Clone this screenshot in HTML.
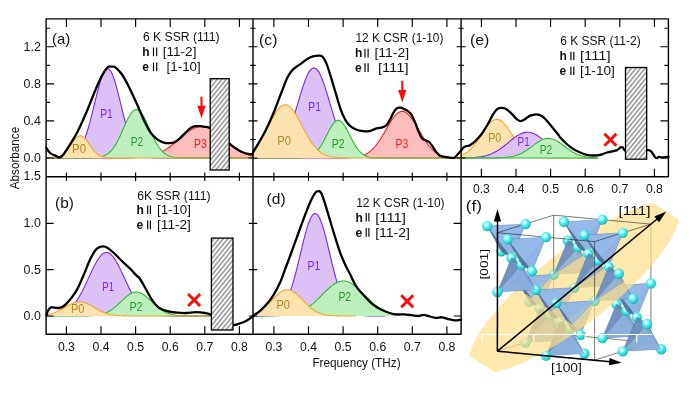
<!DOCTYPE html>
<html><head><meta charset="utf-8"><title>figure</title>
<style>html,body{margin:0;padding:0;background:#fff}svg{display:block}</style></head>
<body>
<svg width="696" height="417" viewBox="0 0 696 417" font-family="'Liberation Sans', sans-serif">
<defs>
<filter id="nf" x="0" y="0" width="696" height="417" filterUnits="userSpaceOnUse" color-interpolation-filters="sRGB"><feOffset dx="0" dy="0"/></filter>
<pattern id="hatch" width="3.5" height="3.5" patternUnits="userSpaceOnUse" patternTransform="rotate(-51)">
<rect width="3.5" height="3.5" fill="#fbfbfb"/><line x1="0" y1="1.75" x2="3.5" y2="1.75" stroke="#808080" stroke-width="1.25"/></pattern>
<radialGradient id="atom" cx="0.40" cy="0.36" r="0.70"><stop offset="0" stop-color="#FFFFFF"/><stop offset="0.22" stop-color="#B4FCFC"/><stop offset="0.5" stop-color="#44E8E8"/><stop offset="0.8" stop-color="#24CACA"/><stop offset="1" stop-color="#139090"/></radialGradient>
<radialGradient id="atomf" cx="0.36" cy="0.32" r="0.75"><stop offset="0" stop-color="#F2F6D8"/><stop offset="0.3" stop-color="#CFE3A8"/><stop offset="0.8" stop-color="#B9D596"/><stop offset="1" stop-color="#A4C088"/></radialGradient>
<clipPath id="cpa"><rect x="46.10" y="18.90" width="206.90" height="157.90"/></clipPath>
<clipPath id="cpb"><rect x="46.10" y="176.80" width="206.90" height="157.50"/></clipPath>
<clipPath id="cpc"><rect x="253.00" y="18.90" width="208.10" height="157.90"/></clipPath>
<clipPath id="cpd"><rect x="253.00" y="176.80" width="208.10" height="157.50"/></clipPath>
<clipPath id="cpe"><rect x="461.10" y="18.90" width="207.30" height="157.90"/></clipPath>
</defs>
<rect width="696" height="417" fill="#fff"/>
<g filter="url(#nf)">
<g id="crystal">
<polygon points="553.70,274.45 524.71,293.43 529.40,301.85" fill="#88ABDB" fill-opacity="0.82" stroke="#2B4E86" stroke-opacity="0.30" stroke-width="0.5" stroke-linejoin="round"/>
<polygon points="553.70,274.45 592.07,272.30 575.88,251.07" fill="#94BAEA" fill-opacity="0.82" stroke="#2B4E86" stroke-opacity="0.30" stroke-width="0.5" stroke-linejoin="round"/>
<polygon points="592.07,272.30 582.69,255.47 575.88,251.07" fill="#4F6A98" fill-opacity="0.82" stroke="#2B4E86" stroke-opacity="0.30" stroke-width="0.5" stroke-linejoin="round"/>
<circle cx="529.40" cy="301.85" r="5.2" fill="url(#atom)"/>
<line x1="553.70" y1="333.70" x2="553.70" y2="321.85" stroke="#222" stroke-width="0.6"/>
<polygon points="553.70,274.45 529.40,301.85 539.62,308.45" fill="#6987B6" fill-opacity="0.82" stroke="#2B4E86" stroke-opacity="0.30" stroke-width="0.5" stroke-linejoin="round"/>
<line x1="553.70" y1="321.85" x2="553.70" y2="310.00" stroke="#222" stroke-width="0.6"/>
<line x1="553.70" y1="333.70" x2="563.42" y2="334.59" stroke="#222" stroke-width="0.6"/>
<polygon points="553.70,274.45 592.07,272.30 582.69,255.47" fill="#88ABDB" fill-opacity="0.82" stroke="#2B4E86" stroke-opacity="0.30" stroke-width="0.5" stroke-linejoin="round"/>
<line x1="553.70" y1="310.00" x2="553.70" y2="298.15" stroke="#222" stroke-width="0.6"/>
<circle cx="592.07" cy="272.30" r="5.2" fill="url(#atom)"/>
<line x1="548.07" y1="335.45" x2="553.70" y2="333.70" stroke="#222" stroke-width="0.6"/>
<polygon points="524.71,293.43 529.40,301.85 539.62,308.45 531.52,297.83" fill="#4F6A98" fill-opacity="0.82" stroke="#2B4E86" stroke-opacity="0.30" stroke-width="0.5" stroke-linejoin="round"/>
<line x1="553.70" y1="298.15" x2="553.70" y2="286.30" stroke="#222" stroke-width="0.6"/>
<line x1="553.70" y1="286.30" x2="553.70" y2="274.45" stroke="#222" stroke-width="0.6"/>
<line x1="563.42" y1="334.59" x2="573.14" y2="335.48" stroke="#222" stroke-width="0.6"/>
<polygon points="602.30,338.15 640.67,336.00 616.38,304.15" fill="#94BAEA" fill-opacity="0.82" stroke="#2B4E86" stroke-opacity="0.30" stroke-width="0.5" stroke-linejoin="round"/>
<line x1="573.14" y1="335.48" x2="582.86" y2="336.37" stroke="#222" stroke-width="0.6"/>
<circle cx="616.38" cy="304.15" r="5.2" fill="url(#atom)"/>
<line x1="542.44" y1="337.20" x2="548.07" y2="335.45" stroke="#222" stroke-width="0.6"/>
<circle cx="553.70" cy="274.45" r="5.2" fill="url(#atom)"/>
<polygon points="553.70,274.45 531.52,297.83 539.62,308.45" fill="#94BAEA" fill-opacity="0.82" stroke="#2B4E86" stroke-opacity="0.30" stroke-width="0.5" stroke-linejoin="round"/>
<polygon points="640.67,336.00 626.60,310.75 616.38,304.15" fill="#4F6A98" fill-opacity="0.82" stroke="#2B4E86" stroke-opacity="0.30" stroke-width="0.5" stroke-linejoin="round"/>
<line x1="582.86" y1="336.37" x2="592.58" y2="337.26" stroke="#222" stroke-width="0.6"/>
<polygon points="602.30,338.15 626.60,310.75 616.38,304.15" fill="#6987B6" fill-opacity="0.82" stroke="#2B4E86" stroke-opacity="0.30" stroke-width="0.5" stroke-linejoin="round"/>
<circle cx="640.67" cy="336.00" r="5.2" fill="url(#atom)"/>
<line x1="536.81" y1="338.95" x2="542.44" y2="337.20" stroke="#222" stroke-width="0.6"/>
<polygon points="602.30,338.15 640.67,336.00 626.60,310.75" fill="#88ABDB" fill-opacity="0.82" stroke="#2B4E86" stroke-opacity="0.30" stroke-width="0.5" stroke-linejoin="round"/>
<line x1="592.58" y1="337.26" x2="602.30" y2="338.15" stroke="#222" stroke-width="0.6"/>
<polygon points="525.55,342.45 563.92,340.30 539.62,308.45" fill="#94BAEA" fill-opacity="0.82" stroke="#2B4E86" stroke-opacity="0.30" stroke-width="0.5" stroke-linejoin="round"/>
<line x1="602.30" y1="338.15" x2="612.02" y2="339.04" stroke="#222" stroke-width="0.6"/>
<circle cx="602.30" cy="338.15" r="5.2" fill="url(#atom)"/>
<line x1="531.18" y1="340.70" x2="536.81" y2="338.95" stroke="#222" stroke-width="0.6"/>
<circle cx="539.62" cy="308.45" r="5.2" fill="url(#atom)"/>
<line x1="612.02" y1="339.04" x2="621.74" y2="339.93" stroke="#222" stroke-width="0.6"/>
<polygon points="563.92,340.30 549.85,315.05 539.62,308.45" fill="#4F6A98" fill-opacity="0.82" stroke="#2B4E86" stroke-opacity="0.30" stroke-width="0.5" stroke-linejoin="round"/>
<line x1="621.74" y1="339.93" x2="631.46" y2="340.82" stroke="#222" stroke-width="0.6"/>
<polygon points="525.55,342.45 549.85,315.05 539.62,308.45" fill="#6987B6" fill-opacity="0.82" stroke="#2B4E86" stroke-opacity="0.30" stroke-width="0.5" stroke-linejoin="round"/>
<line x1="525.55" y1="342.45" x2="531.18" y2="340.70" stroke="#222" stroke-width="0.6"/>
<circle cx="563.92" cy="340.30" r="5.2" fill="url(#atom)"/>
<polygon points="525.55,342.45 563.92,340.30 549.85,315.05" fill="#88ABDB" fill-opacity="0.82" stroke="#2B4E86" stroke-opacity="0.30" stroke-width="0.5" stroke-linejoin="round"/>
<line x1="631.46" y1="340.82" x2="641.18" y2="341.71" stroke="#222" stroke-width="0.6"/>
<circle cx="626.60" cy="310.75" r="5.2" fill="url(#atom)"/>
<line x1="519.92" y1="344.20" x2="525.55" y2="342.45" stroke="#222" stroke-width="0.6"/>
<line x1="641.18" y1="341.71" x2="650.90" y2="342.60" stroke="#222" stroke-width="0.6"/>
<circle cx="525.55" cy="342.45" r="5.2" fill="url(#atom)"/>
<polygon points="650.90,283.35 612.52,285.50 626.60,310.75" fill="#88ABDB" fill-opacity="0.82" stroke="#2B4E86" stroke-opacity="0.30" stroke-width="0.5" stroke-linejoin="round"/>
<line x1="650.90" y1="342.60" x2="650.90" y2="330.75" stroke="#222" stroke-width="0.6"/>
<polygon points="650.90,283.35 626.60,310.75 636.83,317.35" fill="#6987B6" fill-opacity="0.82" stroke="#2B4E86" stroke-opacity="0.30" stroke-width="0.5" stroke-linejoin="round"/>
<line x1="650.90" y1="330.75" x2="650.90" y2="318.90" stroke="#222" stroke-width="0.6"/>
<line x1="650.90" y1="318.90" x2="650.90" y2="307.05" stroke="#222" stroke-width="0.6"/>
<line x1="645.27" y1="344.35" x2="650.90" y2="342.60" stroke="#222" stroke-width="0.6"/>
<line x1="650.90" y1="307.05" x2="650.90" y2="295.20" stroke="#222" stroke-width="0.6"/>
<line x1="514.29" y1="345.95" x2="519.92" y2="344.20" stroke="#222" stroke-width="0.6"/>
<polygon points="612.52,285.50 626.60,310.75 636.83,317.35" fill="#4F6A98" fill-opacity="0.82" stroke="#2B4E86" stroke-opacity="0.30" stroke-width="0.5" stroke-linejoin="round"/>
<line x1="650.90" y1="295.20" x2="650.90" y2="283.35" stroke="#222" stroke-width="0.6"/>
<line x1="650.90" y1="283.35" x2="650.90" y2="271.50" stroke="#222" stroke-width="0.6"/>
<line x1="650.90" y1="271.50" x2="650.90" y2="259.65" stroke="#222" stroke-width="0.6"/>
<polygon points="574.15,287.65 545.16,306.63 549.85,315.05" fill="#88ABDB" fill-opacity="0.82" stroke="#2B4E86" stroke-opacity="0.30" stroke-width="0.5" stroke-linejoin="round"/>
<polygon points="574.15,287.65 612.52,285.50 596.33,264.27" fill="#94BAEA" fill-opacity="0.82" stroke="#2B4E86" stroke-opacity="0.30" stroke-width="0.5" stroke-linejoin="round"/>
<polygon points="650.90,283.35 612.52,285.50 636.83,317.35" fill="#94BAEA" fill-opacity="0.82" stroke="#2B4E86" stroke-opacity="0.30" stroke-width="0.5" stroke-linejoin="round"/>
<line x1="650.90" y1="259.65" x2="650.90" y2="247.80" stroke="#222" stroke-width="0.6"/>
<line x1="639.64" y1="346.10" x2="645.27" y2="344.35" stroke="#222" stroke-width="0.6"/>
<circle cx="650.90" cy="283.35" r="5.2" fill="url(#atom)"/>
<line x1="650.90" y1="247.80" x2="650.90" y2="235.95" stroke="#222" stroke-width="0.6"/>
<polygon points="612.52,285.50 603.14,268.67 596.33,264.27" fill="#4F6A98" fill-opacity="0.82" stroke="#2B4E86" stroke-opacity="0.30" stroke-width="0.5" stroke-linejoin="round"/>
<line x1="508.66" y1="347.70" x2="514.29" y2="345.95" stroke="#222" stroke-width="0.6"/>
<circle cx="549.85" cy="315.05" r="5.2" fill="url(#atom)"/>
<line x1="650.90" y1="235.95" x2="650.90" y2="224.10" stroke="#222" stroke-width="0.6"/>
<polygon points="574.15,287.65 549.85,315.05 560.08,321.65" fill="#6987B6" fill-opacity="0.82" stroke="#2B4E86" stroke-opacity="0.30" stroke-width="0.5" stroke-linejoin="round"/>
<polygon points="574.15,287.65 612.52,285.50 603.14,268.67" fill="#88ABDB" fill-opacity="0.82" stroke="#2B4E86" stroke-opacity="0.30" stroke-width="0.5" stroke-linejoin="round"/>
<line x1="634.01" y1="347.85" x2="639.64" y2="346.10" stroke="#222" stroke-width="0.6"/>
<circle cx="612.52" cy="285.50" r="5.2" fill="url(#atom)"/>
<polygon points="545.16,306.63 549.85,315.05 560.08,321.65 551.98,311.03" fill="#4F6A98" fill-opacity="0.82" stroke="#2B4E86" stroke-opacity="0.30" stroke-width="0.5" stroke-linejoin="round"/>
<line x1="503.03" y1="349.45" x2="508.66" y2="347.70" stroke="#222" stroke-width="0.6"/>
<polygon points="622.75,351.35 661.12,349.20 636.83,317.35" fill="#94BAEA" fill-opacity="0.82" stroke="#2B4E86" stroke-opacity="0.30" stroke-width="0.5" stroke-linejoin="round"/>
<line x1="628.38" y1="349.60" x2="634.01" y2="347.85" stroke="#222" stroke-width="0.6"/>
<circle cx="636.83" cy="317.35" r="5.2" fill="url(#atom)"/>
<circle cx="574.15" cy="287.65" r="5.2" fill="url(#atom)"/>
<line x1="497.40" y1="351.20" x2="503.03" y2="349.45" stroke="#222" stroke-width="0.6"/>
<polygon points="574.15,287.65 551.98,311.03 560.08,321.65" fill="#94BAEA" fill-opacity="0.82" stroke="#2B4E86" stroke-opacity="0.30" stroke-width="0.5" stroke-linejoin="round"/>
<polygon points="661.12,349.20 647.05,323.95 636.83,317.35" fill="#4F6A98" fill-opacity="0.82" stroke="#2B4E86" stroke-opacity="0.30" stroke-width="0.5" stroke-linejoin="round"/>
<polygon points="622.75,351.35 647.05,323.95 636.83,317.35" fill="#6987B6" fill-opacity="0.82" stroke="#2B4E86" stroke-opacity="0.30" stroke-width="0.5" stroke-linejoin="round"/>
<line x1="497.40" y1="351.20" x2="507.12" y2="352.09" stroke="#222" stroke-width="0.6"/>
<line x1="622.75" y1="351.35" x2="628.38" y2="349.60" stroke="#222" stroke-width="0.6"/>
<circle cx="661.12" cy="349.20" r="5.2" fill="url(#atom)"/>
<polygon points="622.75,351.35 661.12,349.20 647.05,323.95" fill="#88ABDB" fill-opacity="0.82" stroke="#2B4E86" stroke-opacity="0.30" stroke-width="0.5" stroke-linejoin="round"/>
<line x1="507.12" y1="352.09" x2="516.84" y2="352.98" stroke="#222" stroke-width="0.6"/>
<polygon points="546.00,355.65 584.38,353.50 560.08,321.65" fill="#94BAEA" fill-opacity="0.82" stroke="#2B4E86" stroke-opacity="0.30" stroke-width="0.5" stroke-linejoin="round"/>
<line x1="617.12" y1="353.10" x2="622.75" y2="351.35" stroke="#222" stroke-width="0.6"/>
<circle cx="622.75" cy="351.35" r="5.2" fill="url(#atom)"/>
<line x1="516.84" y1="352.98" x2="526.56" y2="353.87" stroke="#222" stroke-width="0.6"/>
<circle cx="560.08" cy="321.65" r="5.2" fill="url(#atom)"/>
<polygon points="584.38,353.50 570.30,328.25 560.08,321.65" fill="#4F6A98" fill-opacity="0.82" stroke="#2B4E86" stroke-opacity="0.30" stroke-width="0.5" stroke-linejoin="round"/>
<line x1="526.56" y1="353.87" x2="536.28" y2="354.76" stroke="#222" stroke-width="0.6"/>
<polygon points="546.00,355.65 570.30,328.25 560.08,321.65" fill="#6987B6" fill-opacity="0.82" stroke="#2B4E86" stroke-opacity="0.30" stroke-width="0.5" stroke-linejoin="round"/>
<line x1="611.49" y1="354.85" x2="617.12" y2="353.10" stroke="#222" stroke-width="0.6"/>
<circle cx="584.38" cy="353.50" r="5.2" fill="url(#atom)"/>
<polygon points="546.00,355.65 584.38,353.50 570.30,328.25" fill="#88ABDB" fill-opacity="0.82" stroke="#2B4E86" stroke-opacity="0.30" stroke-width="0.5" stroke-linejoin="round"/>
<line x1="536.28" y1="354.76" x2="546.00" y2="355.65" stroke="#222" stroke-width="0.6"/>
<line x1="546.00" y1="355.65" x2="555.72" y2="356.54" stroke="#222" stroke-width="0.6"/>
<line x1="605.86" y1="356.60" x2="611.49" y2="354.85" stroke="#222" stroke-width="0.6"/>
<circle cx="647.05" cy="323.95" r="5.2" fill="url(#atom)"/>
<circle cx="546.00" cy="355.65" r="5.2" fill="url(#atom)"/>
<line x1="555.72" y1="356.54" x2="565.44" y2="357.43" stroke="#222" stroke-width="0.6"/>
<line x1="600.23" y1="358.35" x2="605.86" y2="356.60" stroke="#222" stroke-width="0.6"/>
<line x1="565.44" y1="357.43" x2="575.16" y2="358.32" stroke="#222" stroke-width="0.6"/>
<line x1="575.16" y1="358.32" x2="584.88" y2="359.21" stroke="#222" stroke-width="0.6"/>
<polygon points="594.60,300.85 565.61,319.83 570.30,328.25" fill="#88ABDB" fill-opacity="0.82" stroke="#2B4E86" stroke-opacity="0.30" stroke-width="0.5" stroke-linejoin="round"/>
<polygon points="594.60,300.85 632.98,298.70 616.77,277.47" fill="#94BAEA" fill-opacity="0.82" stroke="#2B4E86" stroke-opacity="0.30" stroke-width="0.5" stroke-linejoin="round"/>
<line x1="594.60" y1="360.10" x2="600.23" y2="358.35" stroke="#222" stroke-width="0.6"/>
<polygon points="632.98,298.70 623.59,281.87 616.77,277.47" fill="#4F6A98" fill-opacity="0.82" stroke="#2B4E86" stroke-opacity="0.30" stroke-width="0.5" stroke-linejoin="round"/>
<circle cx="570.30" cy="328.25" r="5.2" fill="url(#atom)"/>
<line x1="584.88" y1="359.21" x2="594.60" y2="360.10" stroke="#222" stroke-width="0.6"/>
<line x1="594.60" y1="360.10" x2="594.60" y2="348.25" stroke="#222" stroke-width="0.6"/>
<polygon points="594.60,300.85 570.30,328.25 580.52,334.85" fill="#6987B6" fill-opacity="0.82" stroke="#2B4E86" stroke-opacity="0.30" stroke-width="0.5" stroke-linejoin="round"/>
<line x1="594.60" y1="348.25" x2="594.60" y2="336.40" stroke="#222" stroke-width="0.6"/>
<polygon points="594.60,300.85 632.98,298.70 623.59,281.87" fill="#88ABDB" fill-opacity="0.82" stroke="#2B4E86" stroke-opacity="0.30" stroke-width="0.5" stroke-linejoin="round"/>
<line x1="594.60" y1="336.40" x2="594.60" y2="324.55" stroke="#222" stroke-width="0.6"/>
<circle cx="632.98" cy="298.70" r="5.2" fill="url(#atom)"/>
<polygon points="565.61,319.83 570.30,328.25 580.52,334.85 572.42,324.23" fill="#4F6A98" fill-opacity="0.82" stroke="#2B4E86" stroke-opacity="0.30" stroke-width="0.5" stroke-linejoin="round"/>
<line x1="594.60" y1="324.55" x2="594.60" y2="312.70" stroke="#222" stroke-width="0.6"/>
<line x1="594.60" y1="312.70" x2="594.60" y2="300.85" stroke="#222" stroke-width="0.6"/>
<circle cx="594.60" cy="300.85" r="5.2" fill="url(#atom)"/>
<polygon points="594.60,300.85 572.42,324.23 580.52,334.85" fill="#94BAEA" fill-opacity="0.82" stroke="#2B4E86" stroke-opacity="0.30" stroke-width="0.5" stroke-linejoin="round"/>
<circle cx="580.52" cy="334.85" r="5.2" fill="url(#atom)"/>
<polygon points="469.37,355.70 470.93,349.75 473.15,344.23 475.80,338.97 478.74,333.91 481.91,329.00 485.27,324.22 488.79,319.53 492.45,314.94 496.24,310.42 500.13,305.98 504.13,301.60 508.23,297.28 512.41,293.03 516.67,288.82 521.02,284.67 525.45,280.57 529.95,276.52 534.52,272.51 539.17,268.56 543.90,264.65 548.69,260.78 553.56,256.97 558.50,253.20 563.52,249.48 568.62,245.81 573.79,242.20 579.06,238.64 584.41,235.13 589.85,231.69 595.40,228.31 601.06,225.01 606.84,221.78 612.77,218.65 618.85,215.62 625.12,212.71 631.62,209.95 638.42,207.38 645.65,205.08 653.53,203.21 678.93,219.61 677.37,225.56 675.14,231.08 672.50,236.33 669.56,241.39 666.39,246.30 663.02,251.09 659.50,255.77 655.84,260.37 652.06,264.88 648.16,269.33 644.16,273.70 640.07,278.02 635.89,282.28 631.62,286.48 627.27,290.63 622.85,294.73 618.35,298.79 613.77,302.79 609.12,306.75 604.40,310.66 599.61,314.52 594.74,318.34 589.79,322.10 584.78,325.82 579.68,329.49 574.50,333.11 569.24,336.67 563.89,340.17 558.44,343.61 552.89,346.99 547.23,350.30 541.45,353.52 535.53,356.66 529.45,359.69 523.18,362.60 516.67,365.36 509.87,367.93 502.65,370.22 494.77,372.09" fill="#FFDE88" fill-opacity="0.70" stroke="none"/>
<polygon points="553.70,274.45 575.88,251.07 567.77,240.45" fill="#94BAEA" fill-opacity="0.82" stroke="#2B4E86" stroke-opacity="0.30" stroke-width="0.5" stroke-linejoin="round"/>
<circle cx="567.77" cy="240.45" r="5.2" fill="url(#atom)"/>
<polygon points="582.69,255.47 578.00,247.05 567.77,240.45 575.88,251.07" fill="#4F6A98" fill-opacity="0.82" stroke="#2B4E86" stroke-opacity="0.30" stroke-width="0.5" stroke-linejoin="round"/>
<polygon points="553.70,274.45 515.32,276.60 524.71,293.43" fill="#88ABDB" fill-opacity="0.82" stroke="#2B4E86" stroke-opacity="0.30" stroke-width="0.5" stroke-linejoin="round"/>
<polygon points="553.70,274.45 578.00,247.05 567.77,240.45" fill="#6987B6" fill-opacity="0.82" stroke="#2B4E86" stroke-opacity="0.30" stroke-width="0.5" stroke-linejoin="round"/>
<polygon points="515.32,276.60 524.71,293.43 531.52,297.83" fill="#4F6A98" fill-opacity="0.82" stroke="#2B4E86" stroke-opacity="0.30" stroke-width="0.5" stroke-linejoin="round"/>
<line x1="553.70" y1="274.45" x2="553.70" y2="262.60" stroke="#222" stroke-width="0.6"/>
<line x1="553.70" y1="262.60" x2="553.70" y2="250.75" stroke="#222" stroke-width="0.6"/>
<polygon points="553.70,274.45 515.32,276.60 531.52,297.83" fill="#94BAEA" fill-opacity="0.82" stroke="#2B4E86" stroke-opacity="0.30" stroke-width="0.5" stroke-linejoin="round"/>
<polygon points="553.70,274.45 582.69,255.47 578.00,247.05" fill="#88ABDB" fill-opacity="0.82" stroke="#2B4E86" stroke-opacity="0.30" stroke-width="0.5" stroke-linejoin="round"/>
<line x1="553.70" y1="250.75" x2="553.70" y2="238.90" stroke="#222" stroke-width="0.6"/>
<circle cx="553.70" cy="274.45" r="5.2" fill="url(#atom)" opacity="0.4"/>
<line x1="553.70" y1="238.90" x2="553.70" y2="227.05" stroke="#222" stroke-width="0.6"/>
<line x1="553.70" y1="227.05" x2="553.70" y2="215.20" stroke="#222" stroke-width="0.6"/>
<line x1="553.70" y1="215.20" x2="563.42" y2="216.09" stroke="#222" stroke-width="0.6"/>
<line x1="548.07" y1="216.95" x2="553.70" y2="215.20" stroke="#222" stroke-width="0.6"/>
<circle cx="515.32" cy="276.60" r="5.2" fill="url(#atom)"/>
<line x1="563.42" y1="216.09" x2="573.14" y2="216.98" stroke="#222" stroke-width="0.6"/>
<line x1="573.14" y1="216.98" x2="582.86" y2="217.87" stroke="#222" stroke-width="0.6"/>
<line x1="542.44" y1="218.70" x2="548.07" y2="216.95" stroke="#222" stroke-width="0.6"/>
<circle cx="578.00" cy="247.05" r="5.2" fill="url(#atom)"/>
<polygon points="602.30,219.65 563.92,221.80 578.00,247.05" fill="#88ABDB" fill-opacity="0.82" stroke="#2B4E86" stroke-opacity="0.30" stroke-width="0.5" stroke-linejoin="round"/>
<line x1="582.86" y1="217.87" x2="592.58" y2="218.76" stroke="#222" stroke-width="0.6"/>
<polygon points="602.30,219.65 578.00,247.05 588.23,253.65" fill="#6987B6" fill-opacity="0.82" stroke="#2B4E86" stroke-opacity="0.30" stroke-width="0.5" stroke-linejoin="round"/>
<line x1="536.81" y1="220.45" x2="542.44" y2="218.70" stroke="#222" stroke-width="0.6"/>
<line x1="592.58" y1="218.76" x2="602.30" y2="219.65" stroke="#222" stroke-width="0.6"/>
<polygon points="563.92,221.80 578.00,247.05 588.23,253.65" fill="#4F6A98" fill-opacity="0.82" stroke="#2B4E86" stroke-opacity="0.30" stroke-width="0.5" stroke-linejoin="round"/>
<line x1="602.30" y1="219.65" x2="612.02" y2="220.54" stroke="#222" stroke-width="0.6"/>
<polygon points="602.30,219.65 563.92,221.80 588.23,253.65" fill="#94BAEA" fill-opacity="0.82" stroke="#2B4E86" stroke-opacity="0.30" stroke-width="0.5" stroke-linejoin="round"/>
<circle cx="602.30" cy="219.65" r="5.2" fill="url(#atom)"/>
<line x1="531.18" y1="222.20" x2="536.81" y2="220.45" stroke="#222" stroke-width="0.6"/>
<circle cx="501.25" cy="251.35" r="5.2" fill="url(#atom)"/>
<line x1="612.02" y1="220.54" x2="621.74" y2="221.43" stroke="#222" stroke-width="0.6"/>
<polygon points="525.55,223.95 487.17,226.10 501.25,251.35" fill="#88ABDB" fill-opacity="0.82" stroke="#2B4E86" stroke-opacity="0.30" stroke-width="0.5" stroke-linejoin="round"/>
<polygon points="525.55,223.95 501.25,251.35 511.47,257.95" fill="#6987B6" fill-opacity="0.82" stroke="#2B4E86" stroke-opacity="0.30" stroke-width="0.5" stroke-linejoin="round"/>
<line x1="621.74" y1="221.43" x2="631.46" y2="222.32" stroke="#222" stroke-width="0.6"/>
<line x1="525.55" y1="223.95" x2="531.18" y2="222.20" stroke="#222" stroke-width="0.6"/>
<circle cx="563.92" cy="221.80" r="5.2" fill="url(#atom)"/>
<polygon points="487.17,226.10 501.25,251.35 511.47,257.95" fill="#4F6A98" fill-opacity="0.82" stroke="#2B4E86" stroke-opacity="0.30" stroke-width="0.5" stroke-linejoin="round"/>
<polygon points="574.15,287.65 596.33,264.27 588.23,253.65" fill="#94BAEA" fill-opacity="0.82" stroke="#2B4E86" stroke-opacity="0.30" stroke-width="0.5" stroke-linejoin="round"/>
<line x1="631.46" y1="222.32" x2="641.18" y2="223.21" stroke="#222" stroke-width="0.6"/>
<polygon points="525.55,223.95 487.17,226.10 511.47,257.95" fill="#94BAEA" fill-opacity="0.82" stroke="#2B4E86" stroke-opacity="0.30" stroke-width="0.5" stroke-linejoin="round"/>
<line x1="519.92" y1="225.70" x2="525.55" y2="223.95" stroke="#222" stroke-width="0.6"/>
<line x1="641.18" y1="223.21" x2="650.90" y2="224.10" stroke="#222" stroke-width="0.6"/>
<circle cx="588.23" cy="253.65" r="5.2" fill="url(#atom)"/>
<circle cx="525.55" cy="223.95" r="5.2" fill="url(#atom)"/>
<polygon points="603.14,268.67 598.45,260.25 588.23,253.65 596.33,264.27" fill="#4F6A98" fill-opacity="0.82" stroke="#2B4E86" stroke-opacity="0.30" stroke-width="0.5" stroke-linejoin="round"/>
<polygon points="574.15,287.65 535.77,289.80 545.16,306.63" fill="#88ABDB" fill-opacity="0.82" stroke="#2B4E86" stroke-opacity="0.30" stroke-width="0.5" stroke-linejoin="round"/>
<line x1="645.27" y1="225.85" x2="650.90" y2="224.10" stroke="#222" stroke-width="0.6"/>
<polygon points="574.15,287.65 598.45,260.25 588.23,253.65" fill="#6987B6" fill-opacity="0.82" stroke="#2B4E86" stroke-opacity="0.30" stroke-width="0.5" stroke-linejoin="round"/>
<line x1="514.29" y1="227.45" x2="519.92" y2="225.70" stroke="#222" stroke-width="0.6"/>
<circle cx="487.17" cy="226.10" r="5.2" fill="url(#atom)"/>
<polygon points="535.77,289.80 545.16,306.63 551.98,311.03" fill="#4F6A98" fill-opacity="0.82" stroke="#2B4E86" stroke-opacity="0.30" stroke-width="0.5" stroke-linejoin="round"/>
<polygon points="497.40,291.95 535.77,289.80 511.47,257.95" fill="#94BAEA" fill-opacity="0.82" stroke="#2B4E86" stroke-opacity="0.30" stroke-width="0.5" stroke-linejoin="round"/>
<polygon points="574.15,287.65 535.77,289.80 551.98,311.03" fill="#94BAEA" fill-opacity="0.82" stroke="#2B4E86" stroke-opacity="0.30" stroke-width="0.5" stroke-linejoin="round"/>
<line x1="639.64" y1="227.60" x2="645.27" y2="225.85" stroke="#222" stroke-width="0.6"/>
<polygon points="574.15,287.65 603.14,268.67 598.45,260.25" fill="#88ABDB" fill-opacity="0.82" stroke="#2B4E86" stroke-opacity="0.30" stroke-width="0.5" stroke-linejoin="round"/>
<line x1="508.66" y1="229.20" x2="514.29" y2="227.45" stroke="#222" stroke-width="0.6"/>
<circle cx="574.15" cy="287.65" r="5.2" fill="url(#atom)" opacity="0.4"/>
<circle cx="511.47" cy="257.95" r="5.2" fill="url(#atom)"/>
<polygon points="535.77,289.80 521.70,264.55 511.47,257.95" fill="#4F6A98" fill-opacity="0.82" stroke="#2B4E86" stroke-opacity="0.30" stroke-width="0.5" stroke-linejoin="round"/>
<line x1="497.40" y1="351.20" x2="497.40" y2="339.35" stroke="#222" stroke-width="0.6"/>
<line x1="634.01" y1="229.35" x2="639.64" y2="227.60" stroke="#222" stroke-width="0.6"/>
<line x1="497.40" y1="339.35" x2="497.40" y2="327.50" stroke="#222" stroke-width="0.6"/>
<polygon points="497.40,291.95 521.70,264.55 511.47,257.95" fill="#6987B6" fill-opacity="0.82" stroke="#2B4E86" stroke-opacity="0.30" stroke-width="0.5" stroke-linejoin="round"/>
<line x1="503.03" y1="230.95" x2="508.66" y2="229.20" stroke="#222" stroke-width="0.6"/>
<line x1="497.40" y1="327.50" x2="497.40" y2="315.65" stroke="#222" stroke-width="0.6"/>
<circle cx="535.77" cy="289.80" r="5.2" fill="url(#atom)"/>
<polygon points="497.40,291.95 535.77,289.80 521.70,264.55" fill="#88ABDB" fill-opacity="0.82" stroke="#2B4E86" stroke-opacity="0.30" stroke-width="0.5" stroke-linejoin="round"/>
<line x1="497.40" y1="315.65" x2="497.40" y2="303.80" stroke="#222" stroke-width="0.6"/>
<line x1="497.40" y1="303.80" x2="497.40" y2="291.95" stroke="#222" stroke-width="0.6"/>
<line x1="497.40" y1="291.95" x2="497.40" y2="280.10" stroke="#222" stroke-width="0.6"/>
<line x1="628.38" y1="231.10" x2="634.01" y2="229.35" stroke="#222" stroke-width="0.6"/>
<line x1="497.40" y1="280.10" x2="497.40" y2="268.25" stroke="#222" stroke-width="0.6"/>
<circle cx="598.45" cy="260.25" r="5.2" fill="url(#atom)"/>
<line x1="497.40" y1="232.70" x2="503.03" y2="230.95" stroke="#222" stroke-width="0.6"/>
<line x1="497.40" y1="268.25" x2="497.40" y2="256.40" stroke="#222" stroke-width="0.6"/>
<circle cx="497.40" cy="291.95" r="5.2" fill="url(#atom)"/>
<polygon points="622.75,232.85 584.38,235.00 598.45,260.25" fill="#88ABDB" fill-opacity="0.82" stroke="#2B4E86" stroke-opacity="0.30" stroke-width="0.5" stroke-linejoin="round"/>
<line x1="497.40" y1="256.40" x2="497.40" y2="244.55" stroke="#222" stroke-width="0.6"/>
<line x1="497.40" y1="244.55" x2="497.40" y2="232.70" stroke="#222" stroke-width="0.6"/>
<polygon points="622.75,232.85 598.45,260.25 608.68,266.85" fill="#6987B6" fill-opacity="0.82" stroke="#2B4E86" stroke-opacity="0.30" stroke-width="0.5" stroke-linejoin="round"/>
<line x1="497.40" y1="232.70" x2="507.12" y2="233.59" stroke="#222" stroke-width="0.6"/>
<line x1="622.75" y1="232.85" x2="628.38" y2="231.10" stroke="#222" stroke-width="0.6"/>
<polygon points="584.38,235.00 598.45,260.25 608.68,266.85" fill="#4F6A98" fill-opacity="0.82" stroke="#2B4E86" stroke-opacity="0.30" stroke-width="0.5" stroke-linejoin="round"/>
<line x1="507.12" y1="233.59" x2="516.84" y2="234.48" stroke="#222" stroke-width="0.6"/>
<polygon points="622.75,232.85 584.38,235.00 608.68,266.85" fill="#94BAEA" fill-opacity="0.82" stroke="#2B4E86" stroke-opacity="0.30" stroke-width="0.5" stroke-linejoin="round"/>
<line x1="617.12" y1="234.60" x2="622.75" y2="232.85" stroke="#222" stroke-width="0.6"/>
<circle cx="622.75" cy="232.85" r="5.2" fill="url(#atom)"/>
<line x1="516.84" y1="234.48" x2="526.56" y2="235.37" stroke="#222" stroke-width="0.6"/>
<circle cx="521.70" cy="264.55" r="5.2" fill="url(#atom)"/>
<polygon points="546.00,237.15 507.62,239.30 521.70,264.55" fill="#88ABDB" fill-opacity="0.82" stroke="#2B4E86" stroke-opacity="0.30" stroke-width="0.5" stroke-linejoin="round"/>
<line x1="526.56" y1="235.37" x2="536.28" y2="236.26" stroke="#222" stroke-width="0.6"/>
<polygon points="546.00,237.15 521.70,264.55 531.92,271.15" fill="#6987B6" fill-opacity="0.82" stroke="#2B4E86" stroke-opacity="0.30" stroke-width="0.5" stroke-linejoin="round"/>
<line x1="611.49" y1="236.35" x2="617.12" y2="234.60" stroke="#222" stroke-width="0.6"/>
<circle cx="584.38" cy="235.00" r="5.2" fill="url(#atom)"/>
<line x1="536.28" y1="236.26" x2="546.00" y2="237.15" stroke="#222" stroke-width="0.6"/>
<polygon points="507.62,239.30 521.70,264.55 531.92,271.15" fill="#4F6A98" fill-opacity="0.82" stroke="#2B4E86" stroke-opacity="0.30" stroke-width="0.5" stroke-linejoin="round"/>
<polygon points="594.60,300.85 616.77,277.47 608.68,266.85" fill="#94BAEA" fill-opacity="0.82" stroke="#2B4E86" stroke-opacity="0.30" stroke-width="0.5" stroke-linejoin="round"/>
<line x1="546.00" y1="237.15" x2="555.72" y2="238.04" stroke="#222" stroke-width="0.6"/>
<line x1="605.86" y1="238.10" x2="611.49" y2="236.35" stroke="#222" stroke-width="0.6"/>
<polygon points="546.00,237.15 507.62,239.30 531.92,271.15" fill="#94BAEA" fill-opacity="0.82" stroke="#2B4E86" stroke-opacity="0.30" stroke-width="0.5" stroke-linejoin="round"/>
<circle cx="608.68" cy="266.85" r="5.2" fill="url(#atom)"/>
<circle cx="546.00" cy="237.15" r="5.2" fill="url(#atom)"/>
<line x1="555.72" y1="238.04" x2="565.44" y2="238.93" stroke="#222" stroke-width="0.6"/>
<polygon points="623.59,281.87 618.90,273.45 608.68,266.85 616.77,277.47" fill="#4F6A98" fill-opacity="0.82" stroke="#2B4E86" stroke-opacity="0.30" stroke-width="0.5" stroke-linejoin="round"/>
<polygon points="594.60,300.85 556.22,303.00 565.61,319.83" fill="#88ABDB" fill-opacity="0.82" stroke="#2B4E86" stroke-opacity="0.30" stroke-width="0.5" stroke-linejoin="round"/>
<polygon points="594.60,300.85 618.90,273.45 608.68,266.85" fill="#6987B6" fill-opacity="0.82" stroke="#2B4E86" stroke-opacity="0.30" stroke-width="0.5" stroke-linejoin="round"/>
<line x1="600.23" y1="239.85" x2="605.86" y2="238.10" stroke="#222" stroke-width="0.6"/>
<line x1="565.44" y1="238.93" x2="575.16" y2="239.82" stroke="#222" stroke-width="0.6"/>
<circle cx="507.62" cy="239.30" r="5.2" fill="url(#atom)"/>
<polygon points="556.22,303.00 565.61,319.83 572.42,324.23" fill="#4F6A98" fill-opacity="0.82" stroke="#2B4E86" stroke-opacity="0.30" stroke-width="0.5" stroke-linejoin="round"/>
<line x1="575.16" y1="239.82" x2="584.88" y2="240.71" stroke="#222" stroke-width="0.6"/>
<line x1="594.60" y1="300.85" x2="594.60" y2="289.00" stroke="#222" stroke-width="0.6"/>
<line x1="594.60" y1="289.00" x2="594.60" y2="277.15" stroke="#222" stroke-width="0.6"/>
<polygon points="594.60,300.85 556.22,303.00 572.42,324.23" fill="#94BAEA" fill-opacity="0.82" stroke="#2B4E86" stroke-opacity="0.30" stroke-width="0.5" stroke-linejoin="round"/>
<polygon points="594.60,300.85 623.59,281.87 618.90,273.45" fill="#88ABDB" fill-opacity="0.82" stroke="#2B4E86" stroke-opacity="0.30" stroke-width="0.5" stroke-linejoin="round"/>
<line x1="594.60" y1="241.60" x2="600.23" y2="239.85" stroke="#222" stroke-width="0.6"/>
<line x1="594.60" y1="277.15" x2="594.60" y2="265.30" stroke="#222" stroke-width="0.6"/>
<circle cx="594.60" cy="300.85" r="5.2" fill="url(#atom)" opacity="0.4"/>
<line x1="584.88" y1="240.71" x2="594.60" y2="241.60" stroke="#222" stroke-width="0.6"/>
<circle cx="531.92" cy="271.15" r="5.2" fill="url(#atom)"/>
<line x1="594.60" y1="265.30" x2="594.60" y2="253.45" stroke="#222" stroke-width="0.6"/>
<line x1="594.60" y1="253.45" x2="594.60" y2="241.60" stroke="#222" stroke-width="0.6"/>
<circle cx="556.22" cy="303.00" r="5.2" fill="url(#atom)"/>
<circle cx="618.90" cy="273.45" r="5.2" fill="url(#atom)"/>
<path d="M481.3,334.5H652M481.9,334.5v8M533.8,334.5v8M585.3,334.5v8M636.7,334.5v8" stroke="#fff" stroke-width="1.2" fill="none"/>
<line x1="497.40" y1="351.20" x2="497.49" y2="220.40" stroke="#000" stroke-width="1.50"/>
<polygon points="497.50,208.90 501.09,221.40 493.89,221.40" fill="#000"/>
<line x1="497.40" y1="351.20" x2="610.25" y2="361.64" stroke="#000" stroke-width="1.50"/>
<polygon points="621.70,362.70 608.92,365.13 609.58,357.96" fill="#000"/>
<line x1="497.40" y1="351.20" x2="657.44" y2="218.73" stroke="#000" stroke-width="1.50"/>
<polygon points="666.30,211.40 658.97,222.14 654.38,216.60" fill="#000"/>
</g>
<text x="465.8" y="210.6" font-size="14.20" textLength="16.2" lengthAdjust="spacingAndGlyphs" fill="#111">(f)</text>
<text x="488.2" y="279.5" font-size="11.60" textLength="30.5" lengthAdjust="spacingAndGlyphs" transform="rotate(-90 488.2 279.5)" fill="#111">[001]</text>
<text x="551.1" y="371.5" font-size="12.00" textLength="30.8" lengthAdjust="spacingAndGlyphs" fill="#111">[100]</text>
<text x="618.6" y="215.0" font-size="12.00" textLength="32.0" lengthAdjust="spacingAndGlyphs" fill="#111">[111]</text>
<polygon points="46.10,158.00 46.10,158.00 47.10,158.00 48.10,158.00 49.10,158.00 50.10,158.00 51.10,158.00 52.10,158.00 53.10,158.00 54.10,158.00 55.10,158.00 56.10,158.00 57.10,158.00 58.10,158.00 59.10,158.00 60.10,158.00 61.10,158.00 62.10,158.00 63.10,158.00 64.10,158.00 65.10,158.00 66.10,158.00 67.10,158.00 68.10,158.00 69.10,158.00 70.10,158.00 71.10,158.00 72.10,158.00 73.10,158.00 74.10,158.00 75.10,158.00 76.10,158.00 77.10,158.00 78.10,158.00 79.10,158.00 80.10,158.00 81.10,158.00 82.10,158.00 83.10,158.00 84.10,158.00 85.10,158.00 86.10,158.00 87.10,158.00 88.10,158.00 89.10,158.00 90.10,158.00 91.10,158.00 92.10,158.00 93.10,158.00 94.10,158.00 95.10,158.00 96.10,158.00 97.10,158.00 98.10,158.00 99.10,158.00 100.10,158.00 101.10,158.00 102.10,158.00 103.10,158.00 104.10,158.00 105.10,158.00 106.10,158.00 107.10,158.00 108.10,158.00 109.10,158.00 110.10,157.99 111.10,157.99 112.10,157.99 113.10,157.99 114.10,157.99 115.10,157.99 116.10,157.98 117.10,157.98 118.10,157.98 119.10,157.97 120.10,157.97 121.10,157.96 122.10,157.95 123.10,157.94 124.10,157.93 125.10,157.92 126.10,157.91 127.10,157.89 128.10,157.88 129.10,157.86 130.10,157.83 131.10,157.81 132.10,157.78 133.10,157.75 134.10,157.71 135.10,157.66 136.10,157.62 137.10,157.56 138.10,157.50 139.10,157.43 140.10,157.35 141.10,157.26 142.10,157.17 143.10,157.06 144.10,156.94 145.10,156.81 146.10,156.66 147.10,156.50 148.10,156.33 149.10,156.13 150.10,155.92 151.10,155.69 152.10,155.44 153.10,155.17 154.10,154.88 155.10,154.56 156.10,154.22 157.10,153.85 158.10,153.46 159.10,153.04 160.10,152.59 161.10,152.12 162.10,151.61 163.10,151.08 164.10,150.52 165.10,149.93 166.10,149.31 167.10,148.66 168.10,147.98 169.10,147.28 170.10,146.55 171.10,145.80 172.10,145.02 173.10,144.23 174.10,143.41 175.10,142.58 176.10,141.74 177.10,140.88 178.10,140.02 179.10,139.15 180.10,138.29 181.10,137.42 182.10,136.56 183.10,135.71 184.10,134.88 185.10,134.06 186.10,133.27 187.10,132.50 188.10,131.76 189.10,131.06 190.10,130.39 191.10,129.77 192.10,129.19 193.10,128.66 194.10,128.19 195.10,127.77 196.10,127.40 197.10,127.10 198.10,126.85 199.10,126.67 200.10,126.55 201.10,126.50 202.10,126.52 203.10,126.59 204.10,126.74 205.10,126.94 206.10,127.21 207.10,127.54 208.10,127.93 209.10,128.37 210.10,128.87 211.10,129.42 212.10,130.01 213.10,130.65 214.10,131.33 215.10,132.05 216.10,132.80 217.10,133.58 218.10,134.39 219.10,135.21 220.10,136.05 221.10,136.90 222.10,137.77 223.10,138.63 224.10,139.50 225.10,140.37 226.10,141.23 227.10,142.08 228.10,142.92 229.10,143.74 230.10,144.55 231.10,145.34 232.10,146.10 233.10,146.85 234.10,147.56 235.10,148.26 236.10,148.92 237.10,149.56 238.10,150.17 239.10,150.74 240.10,151.30 241.10,151.82 242.10,152.31 243.10,152.77 244.10,153.21 245.10,153.62 246.10,154.00 247.10,154.36 248.10,154.69 249.10,155.00 250.10,155.28 251.10,155.54 252.10,155.79 252.10,158.00" fill="#FDBDBD" stroke="none"/>
<polyline points="46.10,158.00 46.10,158.00 47.10,158.00 48.10,158.00 49.10,158.00 50.10,158.00 51.10,158.00 52.10,158.00 53.10,158.00 54.10,158.00 55.10,158.00 56.10,158.00 57.10,158.00 58.10,158.00 59.10,158.00 60.10,158.00 61.10,158.00 62.10,158.00 63.10,158.00 64.10,158.00 65.10,158.00 66.10,158.00 67.10,158.00 68.10,158.00 69.10,158.00 70.10,158.00 71.10,158.00 72.10,158.00 73.10,158.00 74.10,158.00 75.10,158.00 76.10,158.00 77.10,158.00 78.10,158.00 79.10,158.00 80.10,158.00 81.10,158.00 82.10,158.00 83.10,158.00 84.10,158.00 85.10,158.00 86.10,158.00 87.10,158.00 88.10,158.00 89.10,158.00 90.10,158.00 91.10,158.00 92.10,158.00 93.10,158.00 94.10,158.00 95.10,158.00 96.10,158.00 97.10,158.00 98.10,158.00 99.10,158.00 100.10,158.00 101.10,158.00 102.10,158.00 103.10,158.00 104.10,158.00 105.10,158.00 106.10,158.00 107.10,158.00 108.10,158.00 109.10,158.00 110.10,157.99 111.10,157.99 112.10,157.99 113.10,157.99 114.10,157.99 115.10,157.99 116.10,157.98 117.10,157.98 118.10,157.98 119.10,157.97 120.10,157.97 121.10,157.96 122.10,157.95 123.10,157.94 124.10,157.93 125.10,157.92 126.10,157.91 127.10,157.89 128.10,157.88 129.10,157.86 130.10,157.83 131.10,157.81 132.10,157.78 133.10,157.75 134.10,157.71 135.10,157.66 136.10,157.62 137.10,157.56 138.10,157.50 139.10,157.43 140.10,157.35 141.10,157.26 142.10,157.17 143.10,157.06 144.10,156.94 145.10,156.81 146.10,156.66 147.10,156.50 148.10,156.33 149.10,156.13 150.10,155.92 151.10,155.69 152.10,155.44 153.10,155.17 154.10,154.88 155.10,154.56 156.10,154.22 157.10,153.85 158.10,153.46 159.10,153.04 160.10,152.59 161.10,152.12 162.10,151.61 163.10,151.08 164.10,150.52 165.10,149.93 166.10,149.31 167.10,148.66 168.10,147.98 169.10,147.28 170.10,146.55 171.10,145.80 172.10,145.02 173.10,144.23 174.10,143.41 175.10,142.58 176.10,141.74 177.10,140.88 178.10,140.02 179.10,139.15 180.10,138.29 181.10,137.42 182.10,136.56 183.10,135.71 184.10,134.88 185.10,134.06 186.10,133.27 187.10,132.50 188.10,131.76 189.10,131.06 190.10,130.39 191.10,129.77 192.10,129.19 193.10,128.66 194.10,128.19 195.10,127.77 196.10,127.40 197.10,127.10 198.10,126.85 199.10,126.67 200.10,126.55 201.10,126.50 202.10,126.52 203.10,126.59 204.10,126.74 205.10,126.94 206.10,127.21 207.10,127.54 208.10,127.93 209.10,128.37 210.10,128.87 211.10,129.42 212.10,130.01 213.10,130.65 214.10,131.33 215.10,132.05 216.10,132.80 217.10,133.58 218.10,134.39 219.10,135.21 220.10,136.05 221.10,136.90 222.10,137.77 223.10,138.63 224.10,139.50 225.10,140.37 226.10,141.23 227.10,142.08 228.10,142.92 229.10,143.74 230.10,144.55 231.10,145.34 232.10,146.10 233.10,146.85 234.10,147.56 235.10,148.26 236.10,148.92 237.10,149.56 238.10,150.17 239.10,150.74 240.10,151.30 241.10,151.82 242.10,152.31 243.10,152.77 244.10,153.21 245.10,153.62 246.10,154.00 247.10,154.36 248.10,154.69 249.10,155.00 250.10,155.28 251.10,155.54 252.10,155.79 252.10,158.00" fill="none" stroke="#F02020" stroke-width="1.1" stroke-linejoin="round"/>
<polygon points="46.10,158.00 46.10,158.00 47.10,158.00 48.10,158.00 49.10,158.00 50.10,157.99 51.10,157.99 52.10,157.99 53.10,157.98 54.10,157.98 55.10,157.97 56.10,157.96 57.10,157.95 58.10,157.93 59.10,157.91 60.10,157.88 61.10,157.84 62.10,157.79 63.10,157.72 64.10,157.64 65.10,157.54 66.10,157.41 67.10,157.25 68.10,157.05 69.10,156.81 70.10,156.52 71.10,156.16 72.10,155.73 73.10,155.22 74.10,154.61 75.10,153.89 76.10,153.04 77.10,152.06 78.10,150.93 79.10,149.62 80.10,148.14 81.10,146.46 82.10,144.57 83.10,142.46 84.10,140.13 85.10,137.57 86.10,134.78 87.10,131.75 88.10,128.51 89.10,125.06 90.10,121.41 91.10,117.60 92.10,113.65 93.10,109.60 94.10,105.49 95.10,101.36 96.10,97.26 97.10,93.23 98.10,89.35 99.10,85.65 100.10,82.20 101.10,79.04 102.10,76.23 103.10,73.82 104.10,71.83 105.10,70.31 106.10,69.28 107.10,68.77 108.10,68.77 109.10,69.28 110.10,70.31 111.10,71.83 112.10,73.82 113.10,76.23 114.10,79.04 115.10,82.20 116.10,85.65 117.10,89.35 118.10,93.23 119.10,97.26 120.10,101.36 121.10,105.49 122.10,109.60 123.10,113.65 124.10,117.60 125.10,121.41 126.10,125.06 127.10,128.51 128.10,131.75 129.10,134.78 130.10,137.57 131.10,140.13 132.10,142.46 133.10,144.57 134.10,146.46 135.10,148.14 136.10,149.62 137.10,150.93 138.10,152.06 139.10,153.04 140.10,153.89 141.10,154.61 142.10,155.22 143.10,155.73 144.10,156.16 145.10,156.52 146.10,156.81 147.10,157.05 148.10,157.25 149.10,157.41 150.10,157.54 151.10,157.64 152.10,157.72 153.10,157.79 154.10,157.84 155.10,157.88 156.10,157.91 157.10,157.93 158.10,157.95 159.10,157.96 160.10,157.97 161.10,157.98 162.10,157.98 163.10,157.99 164.10,157.99 165.10,157.99 166.10,158.00 167.10,158.00 168.10,158.00 169.10,158.00 170.10,158.00 171.10,158.00 172.10,158.00 173.10,158.00 174.10,158.00 175.10,158.00 176.10,158.00 177.10,158.00 178.10,158.00 179.10,158.00 180.10,158.00 181.10,158.00 182.10,158.00 183.10,158.00 184.10,158.00 185.10,158.00 186.10,158.00 187.10,158.00 188.10,158.00 189.10,158.00 190.10,158.00 191.10,158.00 192.10,158.00 193.10,158.00 194.10,158.00 195.10,158.00 196.10,158.00 197.10,158.00 198.10,158.00 199.10,158.00 200.10,158.00 201.10,158.00 202.10,158.00 203.10,158.00 204.10,158.00 205.10,158.00 206.10,158.00 207.10,158.00 208.10,158.00 209.10,158.00 210.10,158.00 211.10,158.00 212.10,158.00 213.10,158.00 214.10,158.00 215.10,158.00 216.10,158.00 217.10,158.00 218.10,158.00 219.10,158.00 220.10,158.00 221.10,158.00 222.10,158.00 223.10,158.00 224.10,158.00 225.10,158.00 226.10,158.00 227.10,158.00 228.10,158.00 229.10,158.00 230.10,158.00 231.10,158.00 232.10,158.00 233.10,158.00 234.10,158.00 235.10,158.00 236.10,158.00 237.10,158.00 238.10,158.00 239.10,158.00 240.10,158.00 241.10,158.00 242.10,158.00 243.10,158.00 244.10,158.00 245.10,158.00 246.10,158.00 247.10,158.00 248.10,158.00 249.10,158.00 250.10,158.00 251.10,158.00 252.10,158.00 252.10,158.00" fill="#DBC1F6" stroke="none"/>
<polyline points="46.10,158.00 46.10,158.00 47.10,158.00 48.10,158.00 49.10,158.00 50.10,157.99 51.10,157.99 52.10,157.99 53.10,157.98 54.10,157.98 55.10,157.97 56.10,157.96 57.10,157.95 58.10,157.93 59.10,157.91 60.10,157.88 61.10,157.84 62.10,157.79 63.10,157.72 64.10,157.64 65.10,157.54 66.10,157.41 67.10,157.25 68.10,157.05 69.10,156.81 70.10,156.52 71.10,156.16 72.10,155.73 73.10,155.22 74.10,154.61 75.10,153.89 76.10,153.04 77.10,152.06 78.10,150.93 79.10,149.62 80.10,148.14 81.10,146.46 82.10,144.57 83.10,142.46 84.10,140.13 85.10,137.57 86.10,134.78 87.10,131.75 88.10,128.51 89.10,125.06 90.10,121.41 91.10,117.60 92.10,113.65 93.10,109.60 94.10,105.49 95.10,101.36 96.10,97.26 97.10,93.23 98.10,89.35 99.10,85.65 100.10,82.20 101.10,79.04 102.10,76.23 103.10,73.82 104.10,71.83 105.10,70.31 106.10,69.28 107.10,68.77 108.10,68.77 109.10,69.28 110.10,70.31 111.10,71.83 112.10,73.82 113.10,76.23 114.10,79.04 115.10,82.20 116.10,85.65 117.10,89.35 118.10,93.23 119.10,97.26 120.10,101.36 121.10,105.49 122.10,109.60 123.10,113.65 124.10,117.60 125.10,121.41 126.10,125.06 127.10,128.51 128.10,131.75 129.10,134.78 130.10,137.57 131.10,140.13 132.10,142.46 133.10,144.57 134.10,146.46 135.10,148.14 136.10,149.62 137.10,150.93 138.10,152.06 139.10,153.04 140.10,153.89 141.10,154.61 142.10,155.22 143.10,155.73 144.10,156.16 145.10,156.52 146.10,156.81 147.10,157.05 148.10,157.25 149.10,157.41 150.10,157.54 151.10,157.64 152.10,157.72 153.10,157.79 154.10,157.84 155.10,157.88 156.10,157.91 157.10,157.93 158.10,157.95 159.10,157.96 160.10,157.97 161.10,157.98 162.10,157.98 163.10,157.99 164.10,157.99 165.10,157.99 166.10,158.00 167.10,158.00 168.10,158.00 169.10,158.00 170.10,158.00 171.10,158.00 172.10,158.00 173.10,158.00 174.10,158.00 175.10,158.00 176.10,158.00 177.10,158.00 178.10,158.00 179.10,158.00 180.10,158.00 181.10,158.00 182.10,158.00 183.10,158.00 184.10,158.00 185.10,158.00 186.10,158.00 187.10,158.00 188.10,158.00 189.10,158.00 190.10,158.00 191.10,158.00 192.10,158.00 193.10,158.00 194.10,158.00 195.10,158.00 196.10,158.00 197.10,158.00 198.10,158.00 199.10,158.00 200.10,158.00 201.10,158.00 202.10,158.00 203.10,158.00 204.10,158.00 205.10,158.00 206.10,158.00 207.10,158.00 208.10,158.00 209.10,158.00 210.10,158.00 211.10,158.00 212.10,158.00 213.10,158.00 214.10,158.00 215.10,158.00 216.10,158.00 217.10,158.00 218.10,158.00 219.10,158.00 220.10,158.00 221.10,158.00 222.10,158.00 223.10,158.00 224.10,158.00 225.10,158.00 226.10,158.00 227.10,158.00 228.10,158.00 229.10,158.00 230.10,158.00 231.10,158.00 232.10,158.00 233.10,158.00 234.10,158.00 235.10,158.00 236.10,158.00 237.10,158.00 238.10,158.00 239.10,158.00 240.10,158.00 241.10,158.00 242.10,158.00 243.10,158.00 244.10,158.00 245.10,158.00 246.10,158.00 247.10,158.00 248.10,158.00 249.10,158.00 250.10,158.00 251.10,158.00 252.10,158.00 252.10,158.00" fill="none" stroke="#7A28E6" stroke-width="1.1" stroke-linejoin="round"/>
<polygon points="46.10,158.00 46.10,158.00 47.10,158.00 48.10,158.00 49.10,158.00 50.10,158.00 51.10,158.00 52.10,158.00 53.10,158.00 54.10,158.00 55.10,158.00 56.10,158.00 57.10,158.00 58.10,158.00 59.10,158.00 60.10,158.00 61.10,158.00 62.10,158.00 63.10,158.00 64.10,158.00 65.10,158.00 66.10,158.00 67.10,158.00 68.10,158.00 69.10,158.00 70.10,158.00 71.10,158.00 72.10,158.00 73.10,158.00 74.10,158.00 75.10,158.00 76.10,158.00 77.10,158.00 78.10,158.00 79.10,158.00 80.10,158.00 81.10,157.99 82.10,157.99 83.10,157.99 84.10,157.99 85.10,157.98 86.10,157.97 87.10,157.96 88.10,157.95 89.10,157.94 90.10,157.91 91.10,157.89 92.10,157.85 93.10,157.81 94.10,157.76 95.10,157.69 96.10,157.60 97.10,157.50 98.10,157.37 99.10,157.21 100.10,157.02 101.10,156.79 102.10,156.51 103.10,156.18 104.10,155.79 105.10,155.33 106.10,154.80 107.10,154.18 108.10,153.47 109.10,152.66 110.10,151.75 111.10,150.72 112.10,149.56 113.10,148.29 114.10,146.89 115.10,145.36 116.10,143.70 117.10,141.92 118.10,140.03 119.10,138.03 120.10,135.95 121.10,133.79 122.10,131.57 123.10,129.32 124.10,127.06 125.10,124.83 126.10,122.64 127.10,120.53 128.10,118.52 129.10,116.66 130.10,114.96 131.10,113.46 132.10,112.18 133.10,111.13 134.10,110.35 135.10,109.84 136.10,109.61 137.10,109.67 138.10,110.01 139.10,110.63 140.10,111.52 141.10,112.66 142.10,114.04 143.10,115.62 144.10,117.39 145.10,119.31 146.10,121.36 147.10,123.51 148.10,125.72 149.10,127.97 150.10,130.22 151.10,132.46 152.10,134.66 153.10,136.79 154.10,138.84 155.10,140.80 156.10,142.65 157.10,144.38 158.10,145.98 159.10,147.46 160.10,148.81 161.10,150.04 162.10,151.14 163.10,152.13 164.10,153.00 165.10,153.77 166.10,154.44 167.10,155.02 168.10,155.52 169.10,155.95 170.10,156.32 171.10,156.63 172.10,156.89 173.10,157.10 174.10,157.28 175.10,157.42 176.10,157.54 177.10,157.64 178.10,157.72 179.10,157.78 180.10,157.83 181.10,157.87 182.10,157.90 183.10,157.92 184.10,157.94 185.10,157.96 186.10,157.97 187.10,157.98 188.10,157.98 189.10,157.99 190.10,157.99 191.10,157.99 192.10,158.00 193.10,158.00 194.10,158.00 195.10,158.00 196.10,158.00 197.10,158.00 198.10,158.00 199.10,158.00 200.10,158.00 201.10,158.00 202.10,158.00 203.10,158.00 204.10,158.00 205.10,158.00 206.10,158.00 207.10,158.00 208.10,158.00 209.10,158.00 210.10,158.00 211.10,158.00 212.10,158.00 213.10,158.00 214.10,158.00 215.10,158.00 216.10,158.00 217.10,158.00 218.10,158.00 219.10,158.00 220.10,158.00 221.10,158.00 222.10,158.00 223.10,158.00 224.10,158.00 225.10,158.00 226.10,158.00 227.10,158.00 228.10,158.00 229.10,158.00 230.10,158.00 231.10,158.00 232.10,158.00 233.10,158.00 234.10,158.00 235.10,158.00 236.10,158.00 237.10,158.00 238.10,158.00 239.10,158.00 240.10,158.00 241.10,158.00 242.10,158.00 243.10,158.00 244.10,158.00 245.10,158.00 246.10,158.00 247.10,158.00 248.10,158.00 249.10,158.00 250.10,158.00 251.10,158.00 252.10,158.00 252.10,158.00" fill="#BEEFBE" stroke="none"/>
<polyline points="46.10,158.00 46.10,158.00 47.10,158.00 48.10,158.00 49.10,158.00 50.10,158.00 51.10,158.00 52.10,158.00 53.10,158.00 54.10,158.00 55.10,158.00 56.10,158.00 57.10,158.00 58.10,158.00 59.10,158.00 60.10,158.00 61.10,158.00 62.10,158.00 63.10,158.00 64.10,158.00 65.10,158.00 66.10,158.00 67.10,158.00 68.10,158.00 69.10,158.00 70.10,158.00 71.10,158.00 72.10,158.00 73.10,158.00 74.10,158.00 75.10,158.00 76.10,158.00 77.10,158.00 78.10,158.00 79.10,158.00 80.10,158.00 81.10,157.99 82.10,157.99 83.10,157.99 84.10,157.99 85.10,157.98 86.10,157.97 87.10,157.96 88.10,157.95 89.10,157.94 90.10,157.91 91.10,157.89 92.10,157.85 93.10,157.81 94.10,157.76 95.10,157.69 96.10,157.60 97.10,157.50 98.10,157.37 99.10,157.21 100.10,157.02 101.10,156.79 102.10,156.51 103.10,156.18 104.10,155.79 105.10,155.33 106.10,154.80 107.10,154.18 108.10,153.47 109.10,152.66 110.10,151.75 111.10,150.72 112.10,149.56 113.10,148.29 114.10,146.89 115.10,145.36 116.10,143.70 117.10,141.92 118.10,140.03 119.10,138.03 120.10,135.95 121.10,133.79 122.10,131.57 123.10,129.32 124.10,127.06 125.10,124.83 126.10,122.64 127.10,120.53 128.10,118.52 129.10,116.66 130.10,114.96 131.10,113.46 132.10,112.18 133.10,111.13 134.10,110.35 135.10,109.84 136.10,109.61 137.10,109.67 138.10,110.01 139.10,110.63 140.10,111.52 141.10,112.66 142.10,114.04 143.10,115.62 144.10,117.39 145.10,119.31 146.10,121.36 147.10,123.51 148.10,125.72 149.10,127.97 150.10,130.22 151.10,132.46 152.10,134.66 153.10,136.79 154.10,138.84 155.10,140.80 156.10,142.65 157.10,144.38 158.10,145.98 159.10,147.46 160.10,148.81 161.10,150.04 162.10,151.14 163.10,152.13 164.10,153.00 165.10,153.77 166.10,154.44 167.10,155.02 168.10,155.52 169.10,155.95 170.10,156.32 171.10,156.63 172.10,156.89 173.10,157.10 174.10,157.28 175.10,157.42 176.10,157.54 177.10,157.64 178.10,157.72 179.10,157.78 180.10,157.83 181.10,157.87 182.10,157.90 183.10,157.92 184.10,157.94 185.10,157.96 186.10,157.97 187.10,157.98 188.10,157.98 189.10,157.99 190.10,157.99 191.10,157.99 192.10,158.00 193.10,158.00 194.10,158.00 195.10,158.00 196.10,158.00 197.10,158.00 198.10,158.00 199.10,158.00 200.10,158.00 201.10,158.00 202.10,158.00 203.10,158.00 204.10,158.00 205.10,158.00 206.10,158.00 207.10,158.00 208.10,158.00 209.10,158.00 210.10,158.00 211.10,158.00 212.10,158.00 213.10,158.00 214.10,158.00 215.10,158.00 216.10,158.00 217.10,158.00 218.10,158.00 219.10,158.00 220.10,158.00 221.10,158.00 222.10,158.00 223.10,158.00 224.10,158.00 225.10,158.00 226.10,158.00 227.10,158.00 228.10,158.00 229.10,158.00 230.10,158.00 231.10,158.00 232.10,158.00 233.10,158.00 234.10,158.00 235.10,158.00 236.10,158.00 237.10,158.00 238.10,158.00 239.10,158.00 240.10,158.00 241.10,158.00 242.10,158.00 243.10,158.00 244.10,158.00 245.10,158.00 246.10,158.00 247.10,158.00 248.10,158.00 249.10,158.00 250.10,158.00 251.10,158.00 252.10,158.00 252.10,158.00" fill="none" stroke="#2DBB2D" stroke-width="1.1" stroke-linejoin="round"/>
<polygon points="46.10,158.00 46.10,157.98 47.10,157.97 48.10,157.95 49.10,157.93 50.10,157.90 51.10,157.86 52.10,157.80 53.10,157.72 54.10,157.62 55.10,157.48 56.10,157.30 57.10,157.08 58.10,156.79 59.10,156.44 60.10,156.01 61.10,155.48 62.10,154.86 63.10,154.13 64.10,153.29 65.10,152.33 66.10,151.25 67.10,150.07 68.10,148.78 69.10,147.42 70.10,145.99 71.10,144.54 72.10,143.08 73.10,141.66 74.10,140.31 75.10,139.08 76.10,138.00 77.10,137.10 78.10,136.43 79.10,135.99 80.10,135.81 81.10,135.88 82.10,136.22 83.10,136.80 84.10,137.62 85.10,138.62 86.10,139.80 87.10,141.11 88.10,142.50 89.10,143.95 90.10,145.41 91.10,146.85 92.10,148.25 93.10,149.57 94.10,150.79 95.10,151.91 96.10,152.92 97.10,153.81 98.10,154.58 99.10,155.25 100.10,155.81 101.10,156.28 102.10,156.66 103.10,156.97 104.10,157.22 105.10,157.41 106.10,157.56 107.10,157.68 108.10,157.77 109.10,157.83 110.10,157.88 111.10,157.92 112.10,157.94 113.10,157.96 114.10,157.97 115.10,157.98 116.10,157.99 117.10,157.99 118.10,158.00 119.10,158.00 120.10,158.00 121.10,158.00 122.10,158.00 123.10,158.00 124.10,158.00 125.10,158.00 126.10,158.00 127.10,158.00 128.10,158.00 129.10,158.00 130.10,158.00 131.10,158.00 132.10,158.00 133.10,158.00 134.10,158.00 135.10,158.00 136.10,158.00 137.10,158.00 138.10,158.00 139.10,158.00 140.10,158.00 141.10,158.00 142.10,158.00 143.10,158.00 144.10,158.00 145.10,158.00 146.10,158.00 147.10,158.00 148.10,158.00 149.10,158.00 150.10,158.00 151.10,158.00 152.10,158.00 153.10,158.00 154.10,158.00 155.10,158.00 156.10,158.00 157.10,158.00 158.10,158.00 159.10,158.00 160.10,158.00 161.10,158.00 162.10,158.00 163.10,158.00 164.10,158.00 165.10,158.00 166.10,158.00 167.10,158.00 168.10,158.00 169.10,158.00 170.10,158.00 171.10,158.00 172.10,158.00 173.10,158.00 174.10,158.00 175.10,158.00 176.10,158.00 177.10,158.00 178.10,158.00 179.10,158.00 180.10,158.00 181.10,158.00 182.10,158.00 183.10,158.00 184.10,158.00 185.10,158.00 186.10,158.00 187.10,158.00 188.10,158.00 189.10,158.00 190.10,158.00 191.10,158.00 192.10,158.00 193.10,158.00 194.10,158.00 195.10,158.00 196.10,158.00 197.10,158.00 198.10,158.00 199.10,158.00 200.10,158.00 201.10,158.00 202.10,158.00 203.10,158.00 204.10,158.00 205.10,158.00 206.10,158.00 207.10,158.00 208.10,158.00 209.10,158.00 210.10,158.00 211.10,158.00 212.10,158.00 213.10,158.00 214.10,158.00 215.10,158.00 216.10,158.00 217.10,158.00 218.10,158.00 219.10,158.00 220.10,158.00 221.10,158.00 222.10,158.00 223.10,158.00 224.10,158.00 225.10,158.00 226.10,158.00 227.10,158.00 228.10,158.00 229.10,158.00 230.10,158.00 231.10,158.00 232.10,158.00 233.10,158.00 234.10,158.00 235.10,158.00 236.10,158.00 237.10,158.00 238.10,158.00 239.10,158.00 240.10,158.00 241.10,158.00 242.10,158.00 243.10,158.00 244.10,158.00 245.10,158.00 246.10,158.00 247.10,158.00 248.10,158.00 249.10,158.00 250.10,158.00 251.10,158.00 252.10,158.00 252.10,158.00" fill="#FBE2AE" stroke="none"/>
<polyline points="46.10,158.00 46.10,157.98 47.10,157.97 48.10,157.95 49.10,157.93 50.10,157.90 51.10,157.86 52.10,157.80 53.10,157.72 54.10,157.62 55.10,157.48 56.10,157.30 57.10,157.08 58.10,156.79 59.10,156.44 60.10,156.01 61.10,155.48 62.10,154.86 63.10,154.13 64.10,153.29 65.10,152.33 66.10,151.25 67.10,150.07 68.10,148.78 69.10,147.42 70.10,145.99 71.10,144.54 72.10,143.08 73.10,141.66 74.10,140.31 75.10,139.08 76.10,138.00 77.10,137.10 78.10,136.43 79.10,135.99 80.10,135.81 81.10,135.88 82.10,136.22 83.10,136.80 84.10,137.62 85.10,138.62 86.10,139.80 87.10,141.11 88.10,142.50 89.10,143.95 90.10,145.41 91.10,146.85 92.10,148.25 93.10,149.57 94.10,150.79 95.10,151.91 96.10,152.92 97.10,153.81 98.10,154.58 99.10,155.25 100.10,155.81 101.10,156.28 102.10,156.66 103.10,156.97 104.10,157.22 105.10,157.41 106.10,157.56 107.10,157.68 108.10,157.77 109.10,157.83 110.10,157.88 111.10,157.92 112.10,157.94 113.10,157.96 114.10,157.97 115.10,157.98 116.10,157.99 117.10,157.99 118.10,158.00 119.10,158.00 120.10,158.00 121.10,158.00 122.10,158.00 123.10,158.00 124.10,158.00 125.10,158.00 126.10,158.00 127.10,158.00 128.10,158.00 129.10,158.00 130.10,158.00 131.10,158.00 132.10,158.00 133.10,158.00 134.10,158.00 135.10,158.00 136.10,158.00 137.10,158.00 138.10,158.00 139.10,158.00 140.10,158.00 141.10,158.00 142.10,158.00 143.10,158.00 144.10,158.00 145.10,158.00 146.10,158.00 147.10,158.00 148.10,158.00 149.10,158.00 150.10,158.00 151.10,158.00 152.10,158.00 153.10,158.00 154.10,158.00 155.10,158.00 156.10,158.00 157.10,158.00 158.10,158.00 159.10,158.00 160.10,158.00 161.10,158.00 162.10,158.00 163.10,158.00 164.10,158.00 165.10,158.00 166.10,158.00 167.10,158.00 168.10,158.00 169.10,158.00 170.10,158.00 171.10,158.00 172.10,158.00 173.10,158.00 174.10,158.00 175.10,158.00 176.10,158.00 177.10,158.00 178.10,158.00 179.10,158.00 180.10,158.00 181.10,158.00 182.10,158.00 183.10,158.00 184.10,158.00 185.10,158.00 186.10,158.00 187.10,158.00 188.10,158.00 189.10,158.00 190.10,158.00 191.10,158.00 192.10,158.00 193.10,158.00 194.10,158.00 195.10,158.00 196.10,158.00 197.10,158.00 198.10,158.00 199.10,158.00 200.10,158.00 201.10,158.00 202.10,158.00 203.10,158.00 204.10,158.00 205.10,158.00 206.10,158.00 207.10,158.00 208.10,158.00 209.10,158.00 210.10,158.00 211.10,158.00 212.10,158.00 213.10,158.00 214.10,158.00 215.10,158.00 216.10,158.00 217.10,158.00 218.10,158.00 219.10,158.00 220.10,158.00 221.10,158.00 222.10,158.00 223.10,158.00 224.10,158.00 225.10,158.00 226.10,158.00 227.10,158.00 228.10,158.00 229.10,158.00 230.10,158.00 231.10,158.00 232.10,158.00 233.10,158.00 234.10,158.00 235.10,158.00 236.10,158.00 237.10,158.00 238.10,158.00 239.10,158.00 240.10,158.00 241.10,158.00 242.10,158.00 243.10,158.00 244.10,158.00 245.10,158.00 246.10,158.00 247.10,158.00 248.10,158.00 249.10,158.00 250.10,158.00 251.10,158.00 252.10,158.00 252.10,158.00" fill="none" stroke="#F2A52A" stroke-width="1.1" stroke-linejoin="round"/>
<polygon points="253.00,158.00 253.00,158.00 254.00,158.00 255.00,158.00 256.00,158.00 257.00,158.00 258.00,158.00 259.00,158.00 260.00,158.00 261.00,158.00 262.00,158.00 263.00,158.00 264.00,158.00 265.00,158.00 266.00,158.00 267.00,158.00 268.00,158.00 269.00,158.00 270.00,158.00 271.00,158.00 272.00,158.00 273.00,158.00 274.00,158.00 275.00,158.00 276.00,158.00 277.00,158.00 278.00,158.00 279.00,158.00 280.00,158.00 281.00,158.00 282.00,158.00 283.00,158.00 284.00,158.00 285.00,158.00 286.00,158.00 287.00,158.00 288.00,158.00 289.00,158.00 290.00,158.00 291.00,158.00 292.00,158.00 293.00,158.00 294.00,158.00 295.00,158.00 296.00,158.00 297.00,158.00 298.00,158.00 299.00,158.00 300.00,158.00 301.00,158.00 302.00,158.00 303.00,158.00 304.00,158.00 305.00,158.00 306.00,158.00 307.00,158.00 308.00,158.00 309.00,158.00 310.00,158.00 311.00,158.00 312.00,158.00 313.00,158.00 314.00,158.00 315.00,158.00 316.00,158.00 317.00,158.00 318.00,158.00 319.00,158.00 320.00,158.00 321.00,158.00 322.00,158.00 323.00,158.00 324.00,158.00 325.00,158.00 326.00,158.00 327.00,158.00 328.00,158.00 329.00,158.00 330.00,158.00 331.00,158.00 332.00,158.00 333.00,157.99 334.00,157.99 335.00,157.99 336.00,157.99 337.00,157.98 338.00,157.98 339.00,157.98 340.00,157.97 341.00,157.96 342.00,157.95 343.00,157.94 344.00,157.92 345.00,157.90 346.00,157.88 347.00,157.85 348.00,157.82 349.00,157.78 350.00,157.73 351.00,157.67 352.00,157.60 353.00,157.52 354.00,157.42 355.00,157.31 356.00,157.17 357.00,157.02 358.00,156.84 359.00,156.63 360.00,156.39 361.00,156.12 362.00,155.80 363.00,155.45 364.00,155.05 365.00,154.59 366.00,154.09 367.00,153.52 368.00,152.90 369.00,152.21 370.00,151.44 371.00,150.61 372.00,149.70 373.00,148.72 374.00,147.65 375.00,146.51 376.00,145.29 377.00,144.00 378.00,142.63 379.00,141.19 380.00,139.68 381.00,138.12 382.00,136.50 383.00,134.83 384.00,133.13 385.00,131.41 386.00,129.68 387.00,127.94 388.00,126.22 389.00,124.52 390.00,122.87 391.00,121.28 392.00,119.75 393.00,118.31 394.00,116.98 395.00,115.76 396.00,114.66 397.00,113.70 398.00,112.90 399.00,112.25 400.00,111.76 401.00,111.45 402.00,111.31 403.00,111.34 404.00,111.55 405.00,111.94 406.00,112.49 407.00,113.20 408.00,114.07 409.00,115.08 410.00,116.23 411.00,117.50 412.00,118.88 413.00,120.35 414.00,121.91 415.00,123.53 416.00,125.20 417.00,126.90 418.00,128.63 419.00,130.37 420.00,132.10 421.00,133.82 422.00,135.50 423.00,137.15 424.00,138.75 425.00,140.29 426.00,141.77 427.00,143.19 428.00,144.53 429.00,145.79 430.00,146.98 431.00,148.09 432.00,149.12 433.00,150.07 434.00,150.95 435.00,151.76 436.00,152.49 437.00,153.16 438.00,153.76 439.00,154.30 440.00,154.78 441.00,155.21 442.00,155.59 443.00,155.93 444.00,156.23 445.00,156.49 446.00,156.72 447.00,156.91 448.00,157.08 449.00,157.23 450.00,157.35 451.00,157.46 452.00,157.55 453.00,157.63 454.00,157.69 455.00,157.75 456.00,157.79 457.00,157.83 458.00,157.86 459.00,157.89 460.00,157.91 461.00,157.93 461.00,158.00" fill="#FDBDBD" stroke="none"/>
<polyline points="253.00,158.00 253.00,158.00 254.00,158.00 255.00,158.00 256.00,158.00 257.00,158.00 258.00,158.00 259.00,158.00 260.00,158.00 261.00,158.00 262.00,158.00 263.00,158.00 264.00,158.00 265.00,158.00 266.00,158.00 267.00,158.00 268.00,158.00 269.00,158.00 270.00,158.00 271.00,158.00 272.00,158.00 273.00,158.00 274.00,158.00 275.00,158.00 276.00,158.00 277.00,158.00 278.00,158.00 279.00,158.00 280.00,158.00 281.00,158.00 282.00,158.00 283.00,158.00 284.00,158.00 285.00,158.00 286.00,158.00 287.00,158.00 288.00,158.00 289.00,158.00 290.00,158.00 291.00,158.00 292.00,158.00 293.00,158.00 294.00,158.00 295.00,158.00 296.00,158.00 297.00,158.00 298.00,158.00 299.00,158.00 300.00,158.00 301.00,158.00 302.00,158.00 303.00,158.00 304.00,158.00 305.00,158.00 306.00,158.00 307.00,158.00 308.00,158.00 309.00,158.00 310.00,158.00 311.00,158.00 312.00,158.00 313.00,158.00 314.00,158.00 315.00,158.00 316.00,158.00 317.00,158.00 318.00,158.00 319.00,158.00 320.00,158.00 321.00,158.00 322.00,158.00 323.00,158.00 324.00,158.00 325.00,158.00 326.00,158.00 327.00,158.00 328.00,158.00 329.00,158.00 330.00,158.00 331.00,158.00 332.00,158.00 333.00,157.99 334.00,157.99 335.00,157.99 336.00,157.99 337.00,157.98 338.00,157.98 339.00,157.98 340.00,157.97 341.00,157.96 342.00,157.95 343.00,157.94 344.00,157.92 345.00,157.90 346.00,157.88 347.00,157.85 348.00,157.82 349.00,157.78 350.00,157.73 351.00,157.67 352.00,157.60 353.00,157.52 354.00,157.42 355.00,157.31 356.00,157.17 357.00,157.02 358.00,156.84 359.00,156.63 360.00,156.39 361.00,156.12 362.00,155.80 363.00,155.45 364.00,155.05 365.00,154.59 366.00,154.09 367.00,153.52 368.00,152.90 369.00,152.21 370.00,151.44 371.00,150.61 372.00,149.70 373.00,148.72 374.00,147.65 375.00,146.51 376.00,145.29 377.00,144.00 378.00,142.63 379.00,141.19 380.00,139.68 381.00,138.12 382.00,136.50 383.00,134.83 384.00,133.13 385.00,131.41 386.00,129.68 387.00,127.94 388.00,126.22 389.00,124.52 390.00,122.87 391.00,121.28 392.00,119.75 393.00,118.31 394.00,116.98 395.00,115.76 396.00,114.66 397.00,113.70 398.00,112.90 399.00,112.25 400.00,111.76 401.00,111.45 402.00,111.31 403.00,111.34 404.00,111.55 405.00,111.94 406.00,112.49 407.00,113.20 408.00,114.07 409.00,115.08 410.00,116.23 411.00,117.50 412.00,118.88 413.00,120.35 414.00,121.91 415.00,123.53 416.00,125.20 417.00,126.90 418.00,128.63 419.00,130.37 420.00,132.10 421.00,133.82 422.00,135.50 423.00,137.15 424.00,138.75 425.00,140.29 426.00,141.77 427.00,143.19 428.00,144.53 429.00,145.79 430.00,146.98 431.00,148.09 432.00,149.12 433.00,150.07 434.00,150.95 435.00,151.76 436.00,152.49 437.00,153.16 438.00,153.76 439.00,154.30 440.00,154.78 441.00,155.21 442.00,155.59 443.00,155.93 444.00,156.23 445.00,156.49 446.00,156.72 447.00,156.91 448.00,157.08 449.00,157.23 450.00,157.35 451.00,157.46 452.00,157.55 453.00,157.63 454.00,157.69 455.00,157.75 456.00,157.79 457.00,157.83 458.00,157.86 459.00,157.89 460.00,157.91 461.00,157.93 461.00,158.00" fill="none" stroke="#F02020" stroke-width="1.1" stroke-linejoin="round"/>
<polygon points="253.00,158.00 253.00,157.93 254.00,157.91 255.00,157.89 256.00,157.86 257.00,157.83 258.00,157.78 259.00,157.73 260.00,157.67 261.00,157.59 262.00,157.50 263.00,157.39 264.00,157.26 265.00,157.11 266.00,156.92 267.00,156.71 268.00,156.45 269.00,156.16 270.00,155.81 271.00,155.41 272.00,154.96 273.00,154.43 274.00,153.83 275.00,153.14 276.00,152.36 277.00,151.49 278.00,150.51 279.00,149.41 280.00,148.19 281.00,146.84 282.00,145.36 283.00,143.73 284.00,141.96 285.00,140.03 286.00,137.95 287.00,135.71 288.00,133.32 289.00,130.78 290.00,128.10 291.00,125.27 292.00,122.32 293.00,119.25 294.00,116.07 295.00,112.81 296.00,109.49 297.00,106.12 298.00,102.73 299.00,99.35 300.00,96.00 301.00,92.71 302.00,89.51 303.00,86.43 304.00,83.50 305.00,80.75 306.00,78.21 307.00,75.90 308.00,73.84 309.00,72.07 310.00,70.60 311.00,69.45 312.00,68.62 313.00,68.14 314.00,68.00 315.00,68.21 316.00,68.76 317.00,69.65 318.00,70.87 319.00,72.40 320.00,74.23 321.00,76.34 322.00,78.70 323.00,81.29 324.00,84.08 325.00,87.04 326.00,90.14 327.00,93.36 328.00,96.67 329.00,100.03 330.00,103.41 331.00,106.80 332.00,110.16 333.00,113.47 334.00,116.71 335.00,119.87 336.00,122.92 337.00,125.85 338.00,128.64 339.00,131.30 340.00,133.81 341.00,136.17 342.00,138.38 343.00,140.43 344.00,142.32 345.00,144.07 346.00,145.67 347.00,147.13 348.00,148.45 349.00,149.64 350.00,150.71 351.00,151.67 352.00,152.53 353.00,153.28 354.00,153.95 355.00,154.54 356.00,155.05 357.00,155.50 358.00,155.89 359.00,156.22 360.00,156.51 361.00,156.75 362.00,156.96 363.00,157.14 364.00,157.29 365.00,157.42 366.00,157.52 367.00,157.61 368.00,157.68 369.00,157.74 370.00,157.79 371.00,157.83 372.00,157.87 373.00,157.89 374.00,157.92 375.00,157.93 376.00,157.95 377.00,157.96 378.00,157.97 379.00,157.97 380.00,157.98 381.00,157.98 382.00,157.99 383.00,157.99 384.00,157.99 385.00,157.99 386.00,158.00 387.00,158.00 388.00,158.00 389.00,158.00 390.00,158.00 391.00,158.00 392.00,158.00 393.00,158.00 394.00,158.00 395.00,158.00 396.00,158.00 397.00,158.00 398.00,158.00 399.00,158.00 400.00,158.00 401.00,158.00 402.00,158.00 403.00,158.00 404.00,158.00 405.00,158.00 406.00,158.00 407.00,158.00 408.00,158.00 409.00,158.00 410.00,158.00 411.00,158.00 412.00,158.00 413.00,158.00 414.00,158.00 415.00,158.00 416.00,158.00 417.00,158.00 418.00,158.00 419.00,158.00 420.00,158.00 421.00,158.00 422.00,158.00 423.00,158.00 424.00,158.00 425.00,158.00 426.00,158.00 427.00,158.00 428.00,158.00 429.00,158.00 430.00,158.00 431.00,158.00 432.00,158.00 433.00,158.00 434.00,158.00 435.00,158.00 436.00,158.00 437.00,158.00 438.00,158.00 439.00,158.00 440.00,158.00 441.00,158.00 442.00,158.00 443.00,158.00 444.00,158.00 445.00,158.00 446.00,158.00 447.00,158.00 448.00,158.00 449.00,158.00 450.00,158.00 451.00,158.00 452.00,158.00 453.00,158.00 454.00,158.00 455.00,158.00 456.00,158.00 457.00,158.00 458.00,158.00 459.00,158.00 460.00,158.00 461.00,158.00 461.00,158.00" fill="#DBC1F6" stroke="none"/>
<polyline points="253.00,158.00 253.00,157.93 254.00,157.91 255.00,157.89 256.00,157.86 257.00,157.83 258.00,157.78 259.00,157.73 260.00,157.67 261.00,157.59 262.00,157.50 263.00,157.39 264.00,157.26 265.00,157.11 266.00,156.92 267.00,156.71 268.00,156.45 269.00,156.16 270.00,155.81 271.00,155.41 272.00,154.96 273.00,154.43 274.00,153.83 275.00,153.14 276.00,152.36 277.00,151.49 278.00,150.51 279.00,149.41 280.00,148.19 281.00,146.84 282.00,145.36 283.00,143.73 284.00,141.96 285.00,140.03 286.00,137.95 287.00,135.71 288.00,133.32 289.00,130.78 290.00,128.10 291.00,125.27 292.00,122.32 293.00,119.25 294.00,116.07 295.00,112.81 296.00,109.49 297.00,106.12 298.00,102.73 299.00,99.35 300.00,96.00 301.00,92.71 302.00,89.51 303.00,86.43 304.00,83.50 305.00,80.75 306.00,78.21 307.00,75.90 308.00,73.84 309.00,72.07 310.00,70.60 311.00,69.45 312.00,68.62 313.00,68.14 314.00,68.00 315.00,68.21 316.00,68.76 317.00,69.65 318.00,70.87 319.00,72.40 320.00,74.23 321.00,76.34 322.00,78.70 323.00,81.29 324.00,84.08 325.00,87.04 326.00,90.14 327.00,93.36 328.00,96.67 329.00,100.03 330.00,103.41 331.00,106.80 332.00,110.16 333.00,113.47 334.00,116.71 335.00,119.87 336.00,122.92 337.00,125.85 338.00,128.64 339.00,131.30 340.00,133.81 341.00,136.17 342.00,138.38 343.00,140.43 344.00,142.32 345.00,144.07 346.00,145.67 347.00,147.13 348.00,148.45 349.00,149.64 350.00,150.71 351.00,151.67 352.00,152.53 353.00,153.28 354.00,153.95 355.00,154.54 356.00,155.05 357.00,155.50 358.00,155.89 359.00,156.22 360.00,156.51 361.00,156.75 362.00,156.96 363.00,157.14 364.00,157.29 365.00,157.42 366.00,157.52 367.00,157.61 368.00,157.68 369.00,157.74 370.00,157.79 371.00,157.83 372.00,157.87 373.00,157.89 374.00,157.92 375.00,157.93 376.00,157.95 377.00,157.96 378.00,157.97 379.00,157.97 380.00,157.98 381.00,157.98 382.00,157.99 383.00,157.99 384.00,157.99 385.00,157.99 386.00,158.00 387.00,158.00 388.00,158.00 389.00,158.00 390.00,158.00 391.00,158.00 392.00,158.00 393.00,158.00 394.00,158.00 395.00,158.00 396.00,158.00 397.00,158.00 398.00,158.00 399.00,158.00 400.00,158.00 401.00,158.00 402.00,158.00 403.00,158.00 404.00,158.00 405.00,158.00 406.00,158.00 407.00,158.00 408.00,158.00 409.00,158.00 410.00,158.00 411.00,158.00 412.00,158.00 413.00,158.00 414.00,158.00 415.00,158.00 416.00,158.00 417.00,158.00 418.00,158.00 419.00,158.00 420.00,158.00 421.00,158.00 422.00,158.00 423.00,158.00 424.00,158.00 425.00,158.00 426.00,158.00 427.00,158.00 428.00,158.00 429.00,158.00 430.00,158.00 431.00,158.00 432.00,158.00 433.00,158.00 434.00,158.00 435.00,158.00 436.00,158.00 437.00,158.00 438.00,158.00 439.00,158.00 440.00,158.00 441.00,158.00 442.00,158.00 443.00,158.00 444.00,158.00 445.00,158.00 446.00,158.00 447.00,158.00 448.00,158.00 449.00,158.00 450.00,158.00 451.00,158.00 452.00,158.00 453.00,158.00 454.00,158.00 455.00,158.00 456.00,158.00 457.00,158.00 458.00,158.00 459.00,158.00 460.00,158.00 461.00,158.00 461.00,158.00" fill="none" stroke="#7A28E6" stroke-width="1.1" stroke-linejoin="round"/>
<polygon points="253.00,158.00 253.00,158.00 254.00,158.00 255.00,158.00 256.00,158.00 257.00,158.00 258.00,158.00 259.00,158.00 260.00,158.00 261.00,158.00 262.00,158.00 263.00,158.00 264.00,158.00 265.00,158.00 266.00,158.00 267.00,158.00 268.00,158.00 269.00,158.00 270.00,158.00 271.00,158.00 272.00,158.00 273.00,158.00 274.00,158.00 275.00,158.00 276.00,158.00 277.00,158.00 278.00,158.00 279.00,158.00 280.00,158.00 281.00,158.00 282.00,158.00 283.00,158.00 284.00,158.00 285.00,158.00 286.00,158.00 287.00,158.00 288.00,158.00 289.00,158.00 290.00,157.99 291.00,157.99 292.00,157.99 293.00,157.98 294.00,157.98 295.00,157.97 296.00,157.96 297.00,157.94 298.00,157.92 299.00,157.89 300.00,157.85 301.00,157.80 302.00,157.73 303.00,157.65 304.00,157.55 305.00,157.42 306.00,157.25 307.00,157.05 308.00,156.80 309.00,156.50 310.00,156.14 311.00,155.71 312.00,155.19 313.00,154.59 314.00,153.89 315.00,153.09 316.00,152.17 317.00,151.13 318.00,149.96 319.00,148.67 320.00,147.25 321.00,145.71 322.00,144.06 323.00,142.30 324.00,140.46 325.00,138.54 326.00,136.58 327.00,134.60 328.00,132.63 329.00,130.70 330.00,128.84 331.00,127.09 332.00,125.49 333.00,124.05 334.00,122.83 335.00,121.83 336.00,121.08 337.00,120.60 338.00,120.41 339.00,120.49 340.00,120.86 341.00,121.50 342.00,122.40 343.00,123.54 344.00,124.89 345.00,126.43 346.00,128.13 347.00,129.94 348.00,131.85 349.00,133.81 350.00,135.79 351.00,137.76 352.00,139.70 353.00,141.57 354.00,143.37 355.00,145.07 356.00,146.65 357.00,148.12 358.00,149.46 359.00,150.67 360.00,151.76 361.00,152.73 362.00,153.58 363.00,154.32 364.00,154.96 365.00,155.51 366.00,155.98 367.00,156.37 368.00,156.69 369.00,156.96 370.00,157.18 371.00,157.36 372.00,157.50 373.00,157.61 374.00,157.70 375.00,157.78 376.00,157.83 377.00,157.87 378.00,157.91 379.00,157.93 380.00,157.95 381.00,157.96 382.00,157.97 383.00,157.98 384.00,157.99 385.00,157.99 386.00,157.99 387.00,158.00 388.00,158.00 389.00,158.00 390.00,158.00 391.00,158.00 392.00,158.00 393.00,158.00 394.00,158.00 395.00,158.00 396.00,158.00 397.00,158.00 398.00,158.00 399.00,158.00 400.00,158.00 401.00,158.00 402.00,158.00 403.00,158.00 404.00,158.00 405.00,158.00 406.00,158.00 407.00,158.00 408.00,158.00 409.00,158.00 410.00,158.00 411.00,158.00 412.00,158.00 413.00,158.00 414.00,158.00 415.00,158.00 416.00,158.00 417.00,158.00 418.00,158.00 419.00,158.00 420.00,158.00 421.00,158.00 422.00,158.00 423.00,158.00 424.00,158.00 425.00,158.00 426.00,158.00 427.00,158.00 428.00,158.00 429.00,158.00 430.00,158.00 431.00,158.00 432.00,158.00 433.00,158.00 434.00,158.00 435.00,158.00 436.00,158.00 437.00,158.00 438.00,158.00 439.00,158.00 440.00,158.00 441.00,158.00 442.00,158.00 443.00,158.00 444.00,158.00 445.00,158.00 446.00,158.00 447.00,158.00 448.00,158.00 449.00,158.00 450.00,158.00 451.00,158.00 452.00,158.00 453.00,158.00 454.00,158.00 455.00,158.00 456.00,158.00 457.00,158.00 458.00,158.00 459.00,158.00 460.00,158.00 461.00,158.00 461.00,158.00" fill="#BEEFBE" stroke="none"/>
<polyline points="253.00,158.00 253.00,158.00 254.00,158.00 255.00,158.00 256.00,158.00 257.00,158.00 258.00,158.00 259.00,158.00 260.00,158.00 261.00,158.00 262.00,158.00 263.00,158.00 264.00,158.00 265.00,158.00 266.00,158.00 267.00,158.00 268.00,158.00 269.00,158.00 270.00,158.00 271.00,158.00 272.00,158.00 273.00,158.00 274.00,158.00 275.00,158.00 276.00,158.00 277.00,158.00 278.00,158.00 279.00,158.00 280.00,158.00 281.00,158.00 282.00,158.00 283.00,158.00 284.00,158.00 285.00,158.00 286.00,158.00 287.00,158.00 288.00,158.00 289.00,158.00 290.00,157.99 291.00,157.99 292.00,157.99 293.00,157.98 294.00,157.98 295.00,157.97 296.00,157.96 297.00,157.94 298.00,157.92 299.00,157.89 300.00,157.85 301.00,157.80 302.00,157.73 303.00,157.65 304.00,157.55 305.00,157.42 306.00,157.25 307.00,157.05 308.00,156.80 309.00,156.50 310.00,156.14 311.00,155.71 312.00,155.19 313.00,154.59 314.00,153.89 315.00,153.09 316.00,152.17 317.00,151.13 318.00,149.96 319.00,148.67 320.00,147.25 321.00,145.71 322.00,144.06 323.00,142.30 324.00,140.46 325.00,138.54 326.00,136.58 327.00,134.60 328.00,132.63 329.00,130.70 330.00,128.84 331.00,127.09 332.00,125.49 333.00,124.05 334.00,122.83 335.00,121.83 336.00,121.08 337.00,120.60 338.00,120.41 339.00,120.49 340.00,120.86 341.00,121.50 342.00,122.40 343.00,123.54 344.00,124.89 345.00,126.43 346.00,128.13 347.00,129.94 348.00,131.85 349.00,133.81 350.00,135.79 351.00,137.76 352.00,139.70 353.00,141.57 354.00,143.37 355.00,145.07 356.00,146.65 357.00,148.12 358.00,149.46 359.00,150.67 360.00,151.76 361.00,152.73 362.00,153.58 363.00,154.32 364.00,154.96 365.00,155.51 366.00,155.98 367.00,156.37 368.00,156.69 369.00,156.96 370.00,157.18 371.00,157.36 372.00,157.50 373.00,157.61 374.00,157.70 375.00,157.78 376.00,157.83 377.00,157.87 378.00,157.91 379.00,157.93 380.00,157.95 381.00,157.96 382.00,157.97 383.00,157.98 384.00,157.99 385.00,157.99 386.00,157.99 387.00,158.00 388.00,158.00 389.00,158.00 390.00,158.00 391.00,158.00 392.00,158.00 393.00,158.00 394.00,158.00 395.00,158.00 396.00,158.00 397.00,158.00 398.00,158.00 399.00,158.00 400.00,158.00 401.00,158.00 402.00,158.00 403.00,158.00 404.00,158.00 405.00,158.00 406.00,158.00 407.00,158.00 408.00,158.00 409.00,158.00 410.00,158.00 411.00,158.00 412.00,158.00 413.00,158.00 414.00,158.00 415.00,158.00 416.00,158.00 417.00,158.00 418.00,158.00 419.00,158.00 420.00,158.00 421.00,158.00 422.00,158.00 423.00,158.00 424.00,158.00 425.00,158.00 426.00,158.00 427.00,158.00 428.00,158.00 429.00,158.00 430.00,158.00 431.00,158.00 432.00,158.00 433.00,158.00 434.00,158.00 435.00,158.00 436.00,158.00 437.00,158.00 438.00,158.00 439.00,158.00 440.00,158.00 441.00,158.00 442.00,158.00 443.00,158.00 444.00,158.00 445.00,158.00 446.00,158.00 447.00,158.00 448.00,158.00 449.00,158.00 450.00,158.00 451.00,158.00 452.00,158.00 453.00,158.00 454.00,158.00 455.00,158.00 456.00,158.00 457.00,158.00 458.00,158.00 459.00,158.00 460.00,158.00 461.00,158.00 461.00,158.00" fill="none" stroke="#2DBB2D" stroke-width="1.1" stroke-linejoin="round"/>
<polygon points="253.00,158.00 253.00,149.52 254.00,148.52 255.00,147.43 256.00,146.25 257.00,145.00 258.00,143.66 259.00,142.23 260.00,140.73 261.00,139.15 262.00,137.50 263.00,135.78 264.00,134.00 265.00,132.18 266.00,130.31 267.00,128.42 268.00,126.50 269.00,124.58 270.00,122.67 271.00,120.78 272.00,118.93 273.00,117.13 274.00,115.40 275.00,113.75 276.00,112.21 277.00,110.77 278.00,109.47 279.00,108.30 280.00,107.29 281.00,106.44 282.00,105.76 283.00,105.25 284.00,104.94 285.00,104.80 286.00,104.86 287.00,105.10 288.00,105.53 289.00,106.14 290.00,106.93 291.00,107.88 292.00,108.98 293.00,110.24 294.00,111.62 295.00,113.12 296.00,114.73 297.00,116.43 298.00,118.20 299.00,120.03 300.00,121.91 301.00,123.81 302.00,125.73 303.00,127.65 304.00,129.56 305.00,131.44 306.00,133.28 307.00,135.08 308.00,136.82 309.00,138.50 310.00,140.11 311.00,141.64 312.00,143.10 313.00,144.47 314.00,145.76 315.00,146.97 316.00,148.09 317.00,149.13 318.00,150.09 319.00,150.97 320.00,151.77 321.00,152.51 322.00,153.17 323.00,153.77 324.00,154.30 325.00,154.78 326.00,155.21 327.00,155.59 328.00,155.93 329.00,156.22 330.00,156.48 331.00,156.71 332.00,156.90 333.00,157.07 334.00,157.22 335.00,157.34 336.00,157.45 337.00,157.54 338.00,157.62 339.00,157.68 340.00,157.74 341.00,157.79 342.00,157.82 343.00,157.86 344.00,157.88 345.00,157.91 346.00,157.92 347.00,157.94 348.00,157.95 349.00,157.96 350.00,157.97 351.00,157.98 352.00,157.98 353.00,157.98 354.00,157.99 355.00,157.99 356.00,157.99 357.00,157.99 358.00,158.00 359.00,158.00 360.00,158.00 361.00,158.00 362.00,158.00 363.00,158.00 364.00,158.00 365.00,158.00 366.00,158.00 367.00,158.00 368.00,158.00 369.00,158.00 370.00,158.00 371.00,158.00 372.00,158.00 373.00,158.00 374.00,158.00 375.00,158.00 376.00,158.00 377.00,158.00 378.00,158.00 379.00,158.00 380.00,158.00 381.00,158.00 382.00,158.00 383.00,158.00 384.00,158.00 385.00,158.00 386.00,158.00 387.00,158.00 388.00,158.00 389.00,158.00 390.00,158.00 391.00,158.00 392.00,158.00 393.00,158.00 394.00,158.00 395.00,158.00 396.00,158.00 397.00,158.00 398.00,158.00 399.00,158.00 400.00,158.00 401.00,158.00 402.00,158.00 403.00,158.00 404.00,158.00 405.00,158.00 406.00,158.00 407.00,158.00 408.00,158.00 409.00,158.00 410.00,158.00 411.00,158.00 412.00,158.00 413.00,158.00 414.00,158.00 415.00,158.00 416.00,158.00 417.00,158.00 418.00,158.00 419.00,158.00 420.00,158.00 421.00,158.00 422.00,158.00 423.00,158.00 424.00,158.00 425.00,158.00 426.00,158.00 427.00,158.00 428.00,158.00 429.00,158.00 430.00,158.00 431.00,158.00 432.00,158.00 433.00,158.00 434.00,158.00 435.00,158.00 436.00,158.00 437.00,158.00 438.00,158.00 439.00,158.00 440.00,158.00 441.00,158.00 442.00,158.00 443.00,158.00 444.00,158.00 445.00,158.00 446.00,158.00 447.00,158.00 448.00,158.00 449.00,158.00 450.00,158.00 451.00,158.00 452.00,158.00 453.00,158.00 454.00,158.00 455.00,158.00 456.00,158.00 457.00,158.00 458.00,158.00 459.00,158.00 460.00,158.00 461.00,158.00 461.00,158.00" fill="#FBE2AE" stroke="none"/>
<polyline points="253.00,158.00 253.00,149.52 254.00,148.52 255.00,147.43 256.00,146.25 257.00,145.00 258.00,143.66 259.00,142.23 260.00,140.73 261.00,139.15 262.00,137.50 263.00,135.78 264.00,134.00 265.00,132.18 266.00,130.31 267.00,128.42 268.00,126.50 269.00,124.58 270.00,122.67 271.00,120.78 272.00,118.93 273.00,117.13 274.00,115.40 275.00,113.75 276.00,112.21 277.00,110.77 278.00,109.47 279.00,108.30 280.00,107.29 281.00,106.44 282.00,105.76 283.00,105.25 284.00,104.94 285.00,104.80 286.00,104.86 287.00,105.10 288.00,105.53 289.00,106.14 290.00,106.93 291.00,107.88 292.00,108.98 293.00,110.24 294.00,111.62 295.00,113.12 296.00,114.73 297.00,116.43 298.00,118.20 299.00,120.03 300.00,121.91 301.00,123.81 302.00,125.73 303.00,127.65 304.00,129.56 305.00,131.44 306.00,133.28 307.00,135.08 308.00,136.82 309.00,138.50 310.00,140.11 311.00,141.64 312.00,143.10 313.00,144.47 314.00,145.76 315.00,146.97 316.00,148.09 317.00,149.13 318.00,150.09 319.00,150.97 320.00,151.77 321.00,152.51 322.00,153.17 323.00,153.77 324.00,154.30 325.00,154.78 326.00,155.21 327.00,155.59 328.00,155.93 329.00,156.22 330.00,156.48 331.00,156.71 332.00,156.90 333.00,157.07 334.00,157.22 335.00,157.34 336.00,157.45 337.00,157.54 338.00,157.62 339.00,157.68 340.00,157.74 341.00,157.79 342.00,157.82 343.00,157.86 344.00,157.88 345.00,157.91 346.00,157.92 347.00,157.94 348.00,157.95 349.00,157.96 350.00,157.97 351.00,157.98 352.00,157.98 353.00,157.98 354.00,157.99 355.00,157.99 356.00,157.99 357.00,157.99 358.00,158.00 359.00,158.00 360.00,158.00 361.00,158.00 362.00,158.00 363.00,158.00 364.00,158.00 365.00,158.00 366.00,158.00 367.00,158.00 368.00,158.00 369.00,158.00 370.00,158.00 371.00,158.00 372.00,158.00 373.00,158.00 374.00,158.00 375.00,158.00 376.00,158.00 377.00,158.00 378.00,158.00 379.00,158.00 380.00,158.00 381.00,158.00 382.00,158.00 383.00,158.00 384.00,158.00 385.00,158.00 386.00,158.00 387.00,158.00 388.00,158.00 389.00,158.00 390.00,158.00 391.00,158.00 392.00,158.00 393.00,158.00 394.00,158.00 395.00,158.00 396.00,158.00 397.00,158.00 398.00,158.00 399.00,158.00 400.00,158.00 401.00,158.00 402.00,158.00 403.00,158.00 404.00,158.00 405.00,158.00 406.00,158.00 407.00,158.00 408.00,158.00 409.00,158.00 410.00,158.00 411.00,158.00 412.00,158.00 413.00,158.00 414.00,158.00 415.00,158.00 416.00,158.00 417.00,158.00 418.00,158.00 419.00,158.00 420.00,158.00 421.00,158.00 422.00,158.00 423.00,158.00 424.00,158.00 425.00,158.00 426.00,158.00 427.00,158.00 428.00,158.00 429.00,158.00 430.00,158.00 431.00,158.00 432.00,158.00 433.00,158.00 434.00,158.00 435.00,158.00 436.00,158.00 437.00,158.00 438.00,158.00 439.00,158.00 440.00,158.00 441.00,158.00 442.00,158.00 443.00,158.00 444.00,158.00 445.00,158.00 446.00,158.00 447.00,158.00 448.00,158.00 449.00,158.00 450.00,158.00 451.00,158.00 452.00,158.00 453.00,158.00 454.00,158.00 455.00,158.00 456.00,158.00 457.00,158.00 458.00,158.00 459.00,158.00 460.00,158.00 461.00,158.00 461.00,158.00" fill="none" stroke="#F2A52A" stroke-width="1.1" stroke-linejoin="round"/>
<polygon points="461.10,158.00 461.10,155.46 462.10,155.04 463.10,154.58 464.10,154.06 465.10,153.48 466.10,152.83 467.10,152.12 468.10,151.34 469.10,150.48 470.10,149.56 471.10,148.56 472.10,147.49 473.10,146.34 474.10,145.13 475.10,143.85 476.10,142.50 477.10,141.11 478.10,139.66 479.10,138.18 480.10,136.67 481.10,135.14 482.10,133.61 483.10,132.08 484.10,130.58 485.10,129.11 486.10,127.70 487.10,126.35 488.10,125.08 489.10,123.90 490.10,122.84 491.10,121.89 492.10,121.08 493.10,120.42 494.10,119.90 495.10,119.54 496.10,119.34 497.10,119.31 498.10,119.44 499.10,119.73 500.10,120.19 501.10,120.80 502.10,121.55 503.10,122.45 504.10,123.46 505.10,124.60 506.10,125.83 507.10,127.15 508.10,128.54 509.10,129.99 510.10,131.48 511.10,133.00 512.10,134.53 513.10,136.06 514.10,137.58 515.10,139.07 516.10,140.53 517.10,141.95 518.10,143.32 519.10,144.62 520.10,145.86 521.10,147.04 522.10,148.14 523.10,149.17 524.10,150.12 525.10,151.01 526.10,151.81 527.10,152.55 528.10,153.23 529.10,153.83 530.10,154.38 531.10,154.86 532.10,155.30 533.10,155.68 534.10,156.02 535.10,156.31 536.10,156.57 537.10,156.79 538.10,156.99 539.10,157.15 540.10,157.29 541.10,157.41 542.10,157.52 543.10,157.60 544.10,157.67 545.10,157.73 546.10,157.78 547.10,157.83 548.10,157.86 549.10,157.89 550.10,157.91 551.10,157.93 552.10,157.94 553.10,157.96 554.10,157.97 555.10,157.97 556.10,157.98 557.10,157.98 558.10,157.99 559.10,157.99 560.10,157.99 561.10,157.99 562.10,158.00 563.10,158.00 564.10,158.00 565.10,158.00 566.10,158.00 567.10,158.00 568.10,158.00 569.10,158.00 570.10,158.00 571.10,158.00 572.10,158.00 573.10,158.00 574.10,158.00 575.10,158.00 576.10,158.00 577.10,158.00 578.10,158.00 579.10,158.00 580.10,158.00 581.10,158.00 582.10,158.00 583.10,158.00 584.10,158.00 585.10,158.00 586.10,158.00 587.10,158.00 588.10,158.00 589.10,158.00 590.10,158.00 591.10,158.00 592.10,158.00 593.10,158.00 594.10,158.00 595.10,158.00 596.10,158.00 597.10,158.00 597.10,158.00" fill="#FBE2AE" stroke="none"/>
<polyline points="461.10,158.00 461.10,155.46 462.10,155.04 463.10,154.58 464.10,154.06 465.10,153.48 466.10,152.83 467.10,152.12 468.10,151.34 469.10,150.48 470.10,149.56 471.10,148.56 472.10,147.49 473.10,146.34 474.10,145.13 475.10,143.85 476.10,142.50 477.10,141.11 478.10,139.66 479.10,138.18 480.10,136.67 481.10,135.14 482.10,133.61 483.10,132.08 484.10,130.58 485.10,129.11 486.10,127.70 487.10,126.35 488.10,125.08 489.10,123.90 490.10,122.84 491.10,121.89 492.10,121.08 493.10,120.42 494.10,119.90 495.10,119.54 496.10,119.34 497.10,119.31 498.10,119.44 499.10,119.73 500.10,120.19 501.10,120.80 502.10,121.55 503.10,122.45 504.10,123.46 505.10,124.60 506.10,125.83 507.10,127.15 508.10,128.54 509.10,129.99 510.10,131.48 511.10,133.00 512.10,134.53 513.10,136.06 514.10,137.58 515.10,139.07 516.10,140.53 517.10,141.95 518.10,143.32 519.10,144.62 520.10,145.86 521.10,147.04 522.10,148.14 523.10,149.17 524.10,150.12 525.10,151.01 526.10,151.81 527.10,152.55 528.10,153.23 529.10,153.83 530.10,154.38 531.10,154.86 532.10,155.30 533.10,155.68 534.10,156.02 535.10,156.31 536.10,156.57 537.10,156.79 538.10,156.99 539.10,157.15 540.10,157.29 541.10,157.41 542.10,157.52 543.10,157.60 544.10,157.67 545.10,157.73 546.10,157.78 547.10,157.83 548.10,157.86 549.10,157.89 550.10,157.91 551.10,157.93 552.10,157.94 553.10,157.96 554.10,157.97 555.10,157.97 556.10,157.98 557.10,157.98 558.10,157.99 559.10,157.99 560.10,157.99 561.10,157.99 562.10,158.00 563.10,158.00 564.10,158.00 565.10,158.00 566.10,158.00 567.10,158.00 568.10,158.00 569.10,158.00 570.10,158.00 571.10,158.00 572.10,158.00 573.10,158.00 574.10,158.00 575.10,158.00 576.10,158.00 577.10,158.00 578.10,158.00 579.10,158.00 580.10,158.00 581.10,158.00 582.10,158.00 583.10,158.00 584.10,158.00 585.10,158.00 586.10,158.00 587.10,158.00 588.10,158.00 589.10,158.00 590.10,158.00 591.10,158.00 592.10,158.00 593.10,158.00 594.10,158.00 595.10,158.00 596.10,158.00 597.10,158.00 597.10,158.00" fill="none" stroke="#F2A52A" stroke-width="1.1" stroke-linejoin="round"/>
<polygon points="461.10,158.00 461.10,157.95 462.10,157.94 463.10,157.92 464.10,157.91 465.10,157.89 466.10,157.87 467.10,157.84 468.10,157.82 469.10,157.78 470.10,157.74 471.10,157.70 472.10,157.65 473.10,157.59 474.10,157.52 475.10,157.45 476.10,157.36 477.10,157.26 478.10,157.15 479.10,157.03 480.10,156.89 481.10,156.73 482.10,156.56 483.10,156.37 484.10,156.15 485.10,155.92 486.10,155.66 487.10,155.37 488.10,155.06 489.10,154.72 490.10,154.36 491.10,153.96 492.10,153.53 493.10,153.08 494.10,152.59 495.10,152.06 496.10,151.51 497.10,150.92 498.10,150.31 499.10,149.66 500.10,148.98 501.10,148.27 502.10,147.54 503.10,146.79 504.10,146.01 505.10,145.22 506.10,144.41 507.10,143.59 508.10,142.77 509.10,141.94 510.10,141.11 511.10,140.29 512.10,139.49 513.10,138.70 514.10,137.93 515.10,137.20 516.10,136.49 517.10,135.82 518.10,135.20 519.10,134.63 520.10,134.10 521.10,133.64 522.10,133.23 523.10,132.89 524.10,132.61 525.10,132.41 526.10,132.27 527.10,132.21 528.10,132.21 529.10,132.29 530.10,132.44 531.10,132.66 532.10,132.95 533.10,133.31 534.10,133.73 535.10,134.20 536.10,134.74 537.10,135.32 538.10,135.95 539.10,136.63 540.10,137.34 541.10,138.08 542.10,138.86 543.10,139.65 544.10,140.46 545.10,141.28 546.10,142.10 547.10,142.93 548.10,143.76 549.10,144.57 550.10,145.38 551.10,146.17 552.10,146.94 553.10,147.69 554.10,148.42 555.10,149.12 556.10,149.79 557.10,150.43 558.10,151.04 559.10,151.62 560.10,152.17 561.10,152.69 562.10,153.17 563.10,153.62 564.10,154.04 565.10,154.43 566.10,154.79 567.10,155.13 568.10,155.43 569.10,155.71 570.10,155.97 571.10,156.20 572.10,156.41 573.10,156.60 574.10,156.77 575.10,156.92 576.10,157.05 577.10,157.18 578.10,157.28 579.10,157.38 580.10,157.46 581.10,157.54 582.10,157.60 583.10,157.66 584.10,157.71 585.10,157.75 586.10,157.79 587.10,157.82 588.10,157.85 589.10,157.87 590.10,157.89 591.10,157.91 592.10,157.93 593.10,157.94 594.10,157.95 595.10,157.96 596.10,157.96 597.10,157.97 597.10,158.00" fill="#DBC1F6" stroke="none"/>
<polyline points="461.10,158.00 461.10,157.95 462.10,157.94 463.10,157.92 464.10,157.91 465.10,157.89 466.10,157.87 467.10,157.84 468.10,157.82 469.10,157.78 470.10,157.74 471.10,157.70 472.10,157.65 473.10,157.59 474.10,157.52 475.10,157.45 476.10,157.36 477.10,157.26 478.10,157.15 479.10,157.03 480.10,156.89 481.10,156.73 482.10,156.56 483.10,156.37 484.10,156.15 485.10,155.92 486.10,155.66 487.10,155.37 488.10,155.06 489.10,154.72 490.10,154.36 491.10,153.96 492.10,153.53 493.10,153.08 494.10,152.59 495.10,152.06 496.10,151.51 497.10,150.92 498.10,150.31 499.10,149.66 500.10,148.98 501.10,148.27 502.10,147.54 503.10,146.79 504.10,146.01 505.10,145.22 506.10,144.41 507.10,143.59 508.10,142.77 509.10,141.94 510.10,141.11 511.10,140.29 512.10,139.49 513.10,138.70 514.10,137.93 515.10,137.20 516.10,136.49 517.10,135.82 518.10,135.20 519.10,134.63 520.10,134.10 521.10,133.64 522.10,133.23 523.10,132.89 524.10,132.61 525.10,132.41 526.10,132.27 527.10,132.21 528.10,132.21 529.10,132.29 530.10,132.44 531.10,132.66 532.10,132.95 533.10,133.31 534.10,133.73 535.10,134.20 536.10,134.74 537.10,135.32 538.10,135.95 539.10,136.63 540.10,137.34 541.10,138.08 542.10,138.86 543.10,139.65 544.10,140.46 545.10,141.28 546.10,142.10 547.10,142.93 548.10,143.76 549.10,144.57 550.10,145.38 551.10,146.17 552.10,146.94 553.10,147.69 554.10,148.42 555.10,149.12 556.10,149.79 557.10,150.43 558.10,151.04 559.10,151.62 560.10,152.17 561.10,152.69 562.10,153.17 563.10,153.62 564.10,154.04 565.10,154.43 566.10,154.79 567.10,155.13 568.10,155.43 569.10,155.71 570.10,155.97 571.10,156.20 572.10,156.41 573.10,156.60 574.10,156.77 575.10,156.92 576.10,157.05 577.10,157.18 578.10,157.28 579.10,157.38 580.10,157.46 581.10,157.54 582.10,157.60 583.10,157.66 584.10,157.71 585.10,157.75 586.10,157.79 587.10,157.82 588.10,157.85 589.10,157.87 590.10,157.89 591.10,157.91 592.10,157.93 593.10,157.94 594.10,157.95 595.10,157.96 596.10,157.96 597.10,157.97 597.10,158.00" fill="none" stroke="#7A28E6" stroke-width="1.1" stroke-linejoin="round"/>
<polygon points="461.10,158.00 461.10,158.00 462.10,158.00 463.10,158.00 464.10,158.00 465.10,158.00 466.10,158.00 467.10,158.00 468.10,158.00 469.10,158.00 470.10,158.00 471.10,158.00 472.10,158.00 473.10,158.00 474.10,158.00 475.10,158.00 476.10,158.00 477.10,158.00 478.10,158.00 479.10,158.00 480.10,158.00 481.10,158.00 482.10,158.00 483.10,158.00 484.10,157.99 485.10,157.99 486.10,157.99 487.10,157.99 488.10,157.98 489.10,157.98 490.10,157.98 491.10,157.97 492.10,157.96 493.10,157.95 494.10,157.94 495.10,157.93 496.10,157.91 497.10,157.89 498.10,157.87 499.10,157.84 500.10,157.80 501.10,157.76 502.10,157.71 503.10,157.66 504.10,157.59 505.10,157.51 506.10,157.42 507.10,157.32 508.10,157.20 509.10,157.06 510.10,156.91 511.10,156.73 512.10,156.53 513.10,156.31 514.10,156.06 515.10,155.78 516.10,155.48 517.10,155.14 518.10,154.77 519.10,154.37 520.10,153.93 521.10,153.46 522.10,152.96 523.10,152.42 524.10,151.84 525.10,151.24 526.10,150.60 527.10,149.94 528.10,149.25 529.10,148.55 530.10,147.82 531.10,147.08 532.10,146.34 533.10,145.59 534.10,144.85 535.10,144.11 536.10,143.40 537.10,142.71 538.10,142.05 539.10,141.42 540.10,140.84 541.10,140.31 542.10,139.83 543.10,139.42 544.10,139.07 545.10,138.79 546.10,138.59 547.10,138.46 548.10,138.40 549.10,138.42 550.10,138.53 551.10,138.70 552.10,138.95 553.10,139.27 554.10,139.66 555.10,140.11 556.10,140.62 557.10,141.18 558.10,141.79 559.10,142.44 560.10,143.12 561.10,143.82 562.10,144.55 563.10,145.29 564.10,146.04 565.10,146.78 566.10,147.53 567.10,148.26 568.10,148.97 569.10,149.67 570.10,150.34 571.10,150.99 572.10,151.61 573.10,152.19 574.10,152.75 575.10,153.26 576.10,153.75 577.10,154.20 578.10,154.62 579.10,155.00 580.10,155.35 581.10,155.67 582.10,155.95 583.10,156.21 584.10,156.45 585.10,156.65 586.10,156.84 587.10,157.00 588.10,157.15 589.10,157.27 590.10,157.38 591.10,157.48 592.10,157.56 593.10,157.63 594.10,157.69 595.10,157.74 596.10,157.79 597.10,157.82 597.10,158.00" fill="#BEEFBE" stroke="none"/>
<polyline points="461.10,158.00 461.10,158.00 462.10,158.00 463.10,158.00 464.10,158.00 465.10,158.00 466.10,158.00 467.10,158.00 468.10,158.00 469.10,158.00 470.10,158.00 471.10,158.00 472.10,158.00 473.10,158.00 474.10,158.00 475.10,158.00 476.10,158.00 477.10,158.00 478.10,158.00 479.10,158.00 480.10,158.00 481.10,158.00 482.10,158.00 483.10,158.00 484.10,157.99 485.10,157.99 486.10,157.99 487.10,157.99 488.10,157.98 489.10,157.98 490.10,157.98 491.10,157.97 492.10,157.96 493.10,157.95 494.10,157.94 495.10,157.93 496.10,157.91 497.10,157.89 498.10,157.87 499.10,157.84 500.10,157.80 501.10,157.76 502.10,157.71 503.10,157.66 504.10,157.59 505.10,157.51 506.10,157.42 507.10,157.32 508.10,157.20 509.10,157.06 510.10,156.91 511.10,156.73 512.10,156.53 513.10,156.31 514.10,156.06 515.10,155.78 516.10,155.48 517.10,155.14 518.10,154.77 519.10,154.37 520.10,153.93 521.10,153.46 522.10,152.96 523.10,152.42 524.10,151.84 525.10,151.24 526.10,150.60 527.10,149.94 528.10,149.25 529.10,148.55 530.10,147.82 531.10,147.08 532.10,146.34 533.10,145.59 534.10,144.85 535.10,144.11 536.10,143.40 537.10,142.71 538.10,142.05 539.10,141.42 540.10,140.84 541.10,140.31 542.10,139.83 543.10,139.42 544.10,139.07 545.10,138.79 546.10,138.59 547.10,138.46 548.10,138.40 549.10,138.42 550.10,138.53 551.10,138.70 552.10,138.95 553.10,139.27 554.10,139.66 555.10,140.11 556.10,140.62 557.10,141.18 558.10,141.79 559.10,142.44 560.10,143.12 561.10,143.82 562.10,144.55 563.10,145.29 564.10,146.04 565.10,146.78 566.10,147.53 567.10,148.26 568.10,148.97 569.10,149.67 570.10,150.34 571.10,150.99 572.10,151.61 573.10,152.19 574.10,152.75 575.10,153.26 576.10,153.75 577.10,154.20 578.10,154.62 579.10,155.00 580.10,155.35 581.10,155.67 582.10,155.95 583.10,156.21 584.10,156.45 585.10,156.65 586.10,156.84 587.10,157.00 588.10,157.15 589.10,157.27 590.10,157.38 591.10,157.48 592.10,157.56 593.10,157.63 594.10,157.69 595.10,157.74 596.10,157.79 597.10,157.82 597.10,158.00" fill="none" stroke="#2DBB2D" stroke-width="1.1" stroke-linejoin="round"/>
<polygon points="46.10,316.00 46.10,315.81 47.10,315.77 48.10,315.73 49.10,315.67 50.10,315.60 51.10,315.53 52.10,315.44 53.10,315.33 54.10,315.21 55.10,315.06 56.10,314.90 57.10,314.71 58.10,314.49 59.10,314.24 60.10,313.96 61.10,313.63 62.10,313.27 63.10,312.86 64.10,312.40 65.10,311.88 66.10,311.31 67.10,310.67 68.10,309.96 69.10,309.19 70.10,308.34 71.10,307.41 72.10,306.39 73.10,305.30 74.10,304.11 75.10,302.84 76.10,301.47 77.10,300.02 78.10,298.47 79.10,296.84 80.10,295.12 81.10,293.32 82.10,291.45 83.10,289.50 84.10,287.49 85.10,285.43 86.10,283.32 87.10,281.17 88.10,279.01 89.10,276.83 90.10,274.66 91.10,272.51 92.10,270.39 93.10,268.32 94.10,266.32 95.10,264.39 96.10,262.57 97.10,260.85 98.10,259.26 99.10,257.81 100.10,256.52 101.10,255.39 102.10,254.43 103.10,253.66 104.10,253.08 105.10,252.70 106.10,252.52 107.10,252.54 108.10,252.76 109.10,253.18 110.10,253.80 111.10,254.61 112.10,255.60 113.10,256.76 114.10,258.09 115.10,259.57 116.10,261.19 117.10,262.92 118.10,264.77 119.10,266.71 120.10,268.73 121.10,270.81 122.10,272.94 123.10,275.09 124.10,277.27 125.10,279.44 126.10,281.60 127.10,283.74 128.10,285.84 129.10,287.90 130.10,289.89 131.10,291.83 132.10,293.69 133.10,295.47 134.10,297.17 135.10,298.79 136.10,300.31 137.10,301.75 138.10,303.10 139.10,304.35 140.10,305.52 141.10,306.60 142.10,307.60 143.10,308.51 144.10,309.35 145.10,310.11 146.10,310.80 147.10,311.43 148.10,311.99 149.10,312.49 150.10,312.94 151.10,313.35 152.10,313.70 153.10,314.02 154.10,314.29 155.10,314.54 156.10,314.75 157.10,314.93 158.10,315.09 159.10,315.23 160.10,315.35 161.10,315.45 162.10,315.54 163.10,315.62 164.10,315.68 165.10,315.74 166.10,315.78 167.10,315.82 168.10,315.85 169.10,315.88 170.10,315.90 171.10,315.92 172.10,315.93 173.10,315.95 174.10,315.96 175.10,315.97 176.10,315.97 177.10,315.98 178.10,315.98 179.10,315.99 180.10,315.99 181.10,315.99 182.10,315.99 183.10,315.99 184.10,316.00 185.10,316.00 186.10,316.00 187.10,316.00 188.10,316.00 189.10,316.00 190.10,316.00 191.10,316.00 192.10,316.00 193.10,316.00 194.10,316.00 195.10,316.00 196.10,316.00 197.10,316.00 198.10,316.00 199.10,316.00 200.10,316.00 201.10,316.00 202.10,316.00 203.10,316.00 204.10,316.00 205.10,316.00 206.10,316.00 207.10,316.00 208.10,316.00 209.10,316.00 210.10,316.00 211.10,316.00 211.10,316.00" fill="#DBC1F6" stroke="none"/>
<polyline points="46.10,316.00 46.10,315.81 47.10,315.77 48.10,315.73 49.10,315.67 50.10,315.60 51.10,315.53 52.10,315.44 53.10,315.33 54.10,315.21 55.10,315.06 56.10,314.90 57.10,314.71 58.10,314.49 59.10,314.24 60.10,313.96 61.10,313.63 62.10,313.27 63.10,312.86 64.10,312.40 65.10,311.88 66.10,311.31 67.10,310.67 68.10,309.96 69.10,309.19 70.10,308.34 71.10,307.41 72.10,306.39 73.10,305.30 74.10,304.11 75.10,302.84 76.10,301.47 77.10,300.02 78.10,298.47 79.10,296.84 80.10,295.12 81.10,293.32 82.10,291.45 83.10,289.50 84.10,287.49 85.10,285.43 86.10,283.32 87.10,281.17 88.10,279.01 89.10,276.83 90.10,274.66 91.10,272.51 92.10,270.39 93.10,268.32 94.10,266.32 95.10,264.39 96.10,262.57 97.10,260.85 98.10,259.26 99.10,257.81 100.10,256.52 101.10,255.39 102.10,254.43 103.10,253.66 104.10,253.08 105.10,252.70 106.10,252.52 107.10,252.54 108.10,252.76 109.10,253.18 110.10,253.80 111.10,254.61 112.10,255.60 113.10,256.76 114.10,258.09 115.10,259.57 116.10,261.19 117.10,262.92 118.10,264.77 119.10,266.71 120.10,268.73 121.10,270.81 122.10,272.94 123.10,275.09 124.10,277.27 125.10,279.44 126.10,281.60 127.10,283.74 128.10,285.84 129.10,287.90 130.10,289.89 131.10,291.83 132.10,293.69 133.10,295.47 134.10,297.17 135.10,298.79 136.10,300.31 137.10,301.75 138.10,303.10 139.10,304.35 140.10,305.52 141.10,306.60 142.10,307.60 143.10,308.51 144.10,309.35 145.10,310.11 146.10,310.80 147.10,311.43 148.10,311.99 149.10,312.49 150.10,312.94 151.10,313.35 152.10,313.70 153.10,314.02 154.10,314.29 155.10,314.54 156.10,314.75 157.10,314.93 158.10,315.09 159.10,315.23 160.10,315.35 161.10,315.45 162.10,315.54 163.10,315.62 164.10,315.68 165.10,315.74 166.10,315.78 167.10,315.82 168.10,315.85 169.10,315.88 170.10,315.90 171.10,315.92 172.10,315.93 173.10,315.95 174.10,315.96 175.10,315.97 176.10,315.97 177.10,315.98 178.10,315.98 179.10,315.99 180.10,315.99 181.10,315.99 182.10,315.99 183.10,315.99 184.10,316.00 185.10,316.00 186.10,316.00 187.10,316.00 188.10,316.00 189.10,316.00 190.10,316.00 191.10,316.00 192.10,316.00 193.10,316.00 194.10,316.00 195.10,316.00 196.10,316.00 197.10,316.00 198.10,316.00 199.10,316.00 200.10,316.00 201.10,316.00 202.10,316.00 203.10,316.00 204.10,316.00 205.10,316.00 206.10,316.00 207.10,316.00 208.10,316.00 209.10,316.00 210.10,316.00 211.10,316.00 211.10,316.00" fill="none" stroke="#7A28E6" stroke-width="1.1" stroke-linejoin="round"/>
<polygon points="46.10,316.00 46.10,316.00 47.10,316.00 48.10,316.00 49.10,316.00 50.10,316.00 51.10,316.00 52.10,316.00 53.10,316.00 54.10,316.00 55.10,316.00 56.10,316.00 57.10,316.00 58.10,316.00 59.10,316.00 60.10,316.00 61.10,316.00 62.10,316.00 63.10,316.00 64.10,316.00 65.10,316.00 66.10,316.00 67.10,316.00 68.10,316.00 69.10,316.00 70.10,316.00 71.10,316.00 72.10,316.00 73.10,316.00 74.10,316.00 75.10,315.99 76.10,315.99 77.10,315.99 78.10,315.99 79.10,315.98 80.10,315.98 81.10,315.97 82.10,315.96 83.10,315.95 84.10,315.94 85.10,315.92 86.10,315.90 87.10,315.88 88.10,315.85 89.10,315.82 90.10,315.78 91.10,315.73 92.10,315.67 93.10,315.60 94.10,315.52 95.10,315.42 96.10,315.31 97.10,315.17 98.10,315.02 99.10,314.85 100.10,314.64 101.10,314.41 102.10,314.15 103.10,313.86 104.10,313.53 105.10,313.16 106.10,312.75 107.10,312.30 108.10,311.80 109.10,311.26 110.10,310.67 111.10,310.04 112.10,309.36 113.10,308.63 114.10,307.86 115.10,307.04 116.10,306.19 117.10,305.31 118.10,304.39 119.10,303.46 120.10,302.50 121.10,301.54 122.10,300.58 123.10,299.62 124.10,298.68 125.10,297.77 126.10,296.90 127.10,296.07 128.10,295.29 129.10,294.58 130.10,293.94 131.10,293.38 132.10,292.91 133.10,292.53 134.10,292.25 135.10,292.08 136.10,292.00 137.10,292.03 138.10,292.17 139.10,292.41 140.10,292.75 141.10,293.18 142.10,293.71 143.10,294.31 144.10,295.00 145.10,295.75 146.10,296.56 147.10,297.42 148.10,298.32 149.10,299.24 150.10,300.19 151.10,301.15 152.10,302.12 153.10,303.08 154.10,304.02 155.10,304.94 156.10,305.84 157.10,306.71 158.10,307.54 159.10,308.32 160.10,309.07 161.10,309.77 162.10,310.42 163.10,311.03 164.10,311.59 165.10,312.11 166.10,312.58 167.10,313.00 168.10,313.39 169.10,313.73 170.10,314.04 171.10,314.31 172.10,314.56 173.10,314.77 174.10,314.95 175.10,315.12 176.10,315.26 177.10,315.38 178.10,315.48 179.10,315.57 180.10,315.64 181.10,315.71 182.10,315.76 183.10,315.80 184.10,315.84 185.10,315.87 186.10,315.90 187.10,315.92 188.10,315.93 189.10,315.95 190.10,315.96 191.10,315.97 192.10,315.97 193.10,315.98 194.10,315.98 195.10,315.99 196.10,315.99 197.10,315.99 198.10,315.99 199.10,316.00 200.10,316.00 201.10,316.00 202.10,316.00 203.10,316.00 204.10,316.00 205.10,316.00 206.10,316.00 207.10,316.00 208.10,316.00 209.10,316.00 210.10,316.00 211.10,316.00 211.10,316.00" fill="#BEEFBE" stroke="none"/>
<polyline points="46.10,316.00 46.10,316.00 47.10,316.00 48.10,316.00 49.10,316.00 50.10,316.00 51.10,316.00 52.10,316.00 53.10,316.00 54.10,316.00 55.10,316.00 56.10,316.00 57.10,316.00 58.10,316.00 59.10,316.00 60.10,316.00 61.10,316.00 62.10,316.00 63.10,316.00 64.10,316.00 65.10,316.00 66.10,316.00 67.10,316.00 68.10,316.00 69.10,316.00 70.10,316.00 71.10,316.00 72.10,316.00 73.10,316.00 74.10,316.00 75.10,315.99 76.10,315.99 77.10,315.99 78.10,315.99 79.10,315.98 80.10,315.98 81.10,315.97 82.10,315.96 83.10,315.95 84.10,315.94 85.10,315.92 86.10,315.90 87.10,315.88 88.10,315.85 89.10,315.82 90.10,315.78 91.10,315.73 92.10,315.67 93.10,315.60 94.10,315.52 95.10,315.42 96.10,315.31 97.10,315.17 98.10,315.02 99.10,314.85 100.10,314.64 101.10,314.41 102.10,314.15 103.10,313.86 104.10,313.53 105.10,313.16 106.10,312.75 107.10,312.30 108.10,311.80 109.10,311.26 110.10,310.67 111.10,310.04 112.10,309.36 113.10,308.63 114.10,307.86 115.10,307.04 116.10,306.19 117.10,305.31 118.10,304.39 119.10,303.46 120.10,302.50 121.10,301.54 122.10,300.58 123.10,299.62 124.10,298.68 125.10,297.77 126.10,296.90 127.10,296.07 128.10,295.29 129.10,294.58 130.10,293.94 131.10,293.38 132.10,292.91 133.10,292.53 134.10,292.25 135.10,292.08 136.10,292.00 137.10,292.03 138.10,292.17 139.10,292.41 140.10,292.75 141.10,293.18 142.10,293.71 143.10,294.31 144.10,295.00 145.10,295.75 146.10,296.56 147.10,297.42 148.10,298.32 149.10,299.24 150.10,300.19 151.10,301.15 152.10,302.12 153.10,303.08 154.10,304.02 155.10,304.94 156.10,305.84 157.10,306.71 158.10,307.54 159.10,308.32 160.10,309.07 161.10,309.77 162.10,310.42 163.10,311.03 164.10,311.59 165.10,312.11 166.10,312.58 167.10,313.00 168.10,313.39 169.10,313.73 170.10,314.04 171.10,314.31 172.10,314.56 173.10,314.77 174.10,314.95 175.10,315.12 176.10,315.26 177.10,315.38 178.10,315.48 179.10,315.57 180.10,315.64 181.10,315.71 182.10,315.76 183.10,315.80 184.10,315.84 185.10,315.87 186.10,315.90 187.10,315.92 188.10,315.93 189.10,315.95 190.10,315.96 191.10,315.97 192.10,315.97 193.10,315.98 194.10,315.98 195.10,315.99 196.10,315.99 197.10,315.99 198.10,315.99 199.10,316.00 200.10,316.00 201.10,316.00 202.10,316.00 203.10,316.00 204.10,316.00 205.10,316.00 206.10,316.00 207.10,316.00 208.10,316.00 209.10,316.00 210.10,316.00 211.10,316.00 211.10,316.00" fill="none" stroke="#2DBB2D" stroke-width="1.1" stroke-linejoin="round"/>
<polygon points="46.10,316.00 46.10,314.98 47.10,314.81 48.10,314.61 49.10,314.40 50.10,314.16 51.10,313.89 52.10,313.59 53.10,313.27 54.10,312.91 55.10,312.53 56.10,312.11 57.10,311.67 58.10,311.20 59.10,310.70 60.10,310.18 61.10,309.64 62.10,309.08 63.10,308.50 64.10,307.92 65.10,307.33 66.10,306.74 67.10,306.16 68.10,305.59 69.10,305.04 70.10,304.51 71.10,304.01 72.10,303.56 73.10,303.14 74.10,302.77 75.10,302.46 76.10,302.20 77.10,302.01 78.10,301.87 79.10,301.81 80.10,301.81 81.10,301.87 82.10,302.01 83.10,302.20 84.10,302.46 85.10,302.77 86.10,303.14 87.10,303.56 88.10,304.01 89.10,304.51 90.10,305.04 91.10,305.59 92.10,306.16 93.10,306.74 94.10,307.33 95.10,307.92 96.10,308.50 97.10,309.08 98.10,309.64 99.10,310.18 100.10,310.70 101.10,311.20 102.10,311.67 103.10,312.11 104.10,312.53 105.10,312.91 106.10,313.27 107.10,313.59 108.10,313.89 109.10,314.16 110.10,314.40 111.10,314.61 112.10,314.81 113.10,314.98 114.10,315.13 115.10,315.26 116.10,315.38 117.10,315.48 118.10,315.56 119.10,315.63 120.10,315.70 121.10,315.75 122.10,315.79 123.10,315.83 124.10,315.86 125.10,315.89 126.10,315.91 127.10,315.93 128.10,315.94 129.10,315.95 130.10,315.96 131.10,315.97 132.10,315.98 133.10,315.98 134.10,315.99 135.10,315.99 136.10,315.99 137.10,315.99 138.10,316.00 139.10,316.00 140.10,316.00 141.10,316.00 142.10,316.00 143.10,316.00 144.10,316.00 145.10,316.00 146.10,316.00 147.10,316.00 148.10,316.00 149.10,316.00 150.10,316.00 151.10,316.00 152.10,316.00 153.10,316.00 154.10,316.00 155.10,316.00 156.10,316.00 157.10,316.00 158.10,316.00 159.10,316.00 160.10,316.00 161.10,316.00 162.10,316.00 163.10,316.00 164.10,316.00 165.10,316.00 166.10,316.00 167.10,316.00 168.10,316.00 169.10,316.00 170.10,316.00 171.10,316.00 172.10,316.00 173.10,316.00 174.10,316.00 175.10,316.00 176.10,316.00 177.10,316.00 178.10,316.00 179.10,316.00 180.10,316.00 181.10,316.00 182.10,316.00 183.10,316.00 184.10,316.00 185.10,316.00 186.10,316.00 187.10,316.00 188.10,316.00 189.10,316.00 190.10,316.00 191.10,316.00 192.10,316.00 193.10,316.00 194.10,316.00 195.10,316.00 196.10,316.00 197.10,316.00 198.10,316.00 199.10,316.00 200.10,316.00 201.10,316.00 202.10,316.00 203.10,316.00 204.10,316.00 205.10,316.00 206.10,316.00 207.10,316.00 208.10,316.00 209.10,316.00 210.10,316.00 211.10,316.00 211.10,316.00" fill="#FBE2AE" stroke="none"/>
<polyline points="46.10,316.00 46.10,314.98 47.10,314.81 48.10,314.61 49.10,314.40 50.10,314.16 51.10,313.89 52.10,313.59 53.10,313.27 54.10,312.91 55.10,312.53 56.10,312.11 57.10,311.67 58.10,311.20 59.10,310.70 60.10,310.18 61.10,309.64 62.10,309.08 63.10,308.50 64.10,307.92 65.10,307.33 66.10,306.74 67.10,306.16 68.10,305.59 69.10,305.04 70.10,304.51 71.10,304.01 72.10,303.56 73.10,303.14 74.10,302.77 75.10,302.46 76.10,302.20 77.10,302.01 78.10,301.87 79.10,301.81 80.10,301.81 81.10,301.87 82.10,302.01 83.10,302.20 84.10,302.46 85.10,302.77 86.10,303.14 87.10,303.56 88.10,304.01 89.10,304.51 90.10,305.04 91.10,305.59 92.10,306.16 93.10,306.74 94.10,307.33 95.10,307.92 96.10,308.50 97.10,309.08 98.10,309.64 99.10,310.18 100.10,310.70 101.10,311.20 102.10,311.67 103.10,312.11 104.10,312.53 105.10,312.91 106.10,313.27 107.10,313.59 108.10,313.89 109.10,314.16 110.10,314.40 111.10,314.61 112.10,314.81 113.10,314.98 114.10,315.13 115.10,315.26 116.10,315.38 117.10,315.48 118.10,315.56 119.10,315.63 120.10,315.70 121.10,315.75 122.10,315.79 123.10,315.83 124.10,315.86 125.10,315.89 126.10,315.91 127.10,315.93 128.10,315.94 129.10,315.95 130.10,315.96 131.10,315.97 132.10,315.98 133.10,315.98 134.10,315.99 135.10,315.99 136.10,315.99 137.10,315.99 138.10,316.00 139.10,316.00 140.10,316.00 141.10,316.00 142.10,316.00 143.10,316.00 144.10,316.00 145.10,316.00 146.10,316.00 147.10,316.00 148.10,316.00 149.10,316.00 150.10,316.00 151.10,316.00 152.10,316.00 153.10,316.00 154.10,316.00 155.10,316.00 156.10,316.00 157.10,316.00 158.10,316.00 159.10,316.00 160.10,316.00 161.10,316.00 162.10,316.00 163.10,316.00 164.10,316.00 165.10,316.00 166.10,316.00 167.10,316.00 168.10,316.00 169.10,316.00 170.10,316.00 171.10,316.00 172.10,316.00 173.10,316.00 174.10,316.00 175.10,316.00 176.10,316.00 177.10,316.00 178.10,316.00 179.10,316.00 180.10,316.00 181.10,316.00 182.10,316.00 183.10,316.00 184.10,316.00 185.10,316.00 186.10,316.00 187.10,316.00 188.10,316.00 189.10,316.00 190.10,316.00 191.10,316.00 192.10,316.00 193.10,316.00 194.10,316.00 195.10,316.00 196.10,316.00 197.10,316.00 198.10,316.00 199.10,316.00 200.10,316.00 201.10,316.00 202.10,316.00 203.10,316.00 204.10,316.00 205.10,316.00 206.10,316.00 207.10,316.00 208.10,316.00 209.10,316.00 210.10,316.00 211.10,316.00 211.10,316.00" fill="none" stroke="#F2A52A" stroke-width="1.1" stroke-linejoin="round"/>
<polygon points="253.00,316.00 253.00,315.99 254.00,315.98 255.00,315.98 256.00,315.97 257.00,315.96 258.00,315.95 259.00,315.93 260.00,315.91 261.00,315.88 262.00,315.85 263.00,315.81 264.00,315.76 265.00,315.69 266.00,315.61 267.00,315.51 268.00,315.40 269.00,315.25 270.00,315.07 271.00,314.86 272.00,314.61 273.00,314.30 274.00,313.94 275.00,313.52 276.00,313.02 277.00,312.44 278.00,311.76 279.00,310.97 280.00,310.08 281.00,309.05 282.00,307.88 283.00,306.55 284.00,305.07 285.00,303.40 286.00,301.55 287.00,299.51 288.00,297.26 289.00,294.81 290.00,292.14 291.00,289.27 292.00,286.18 293.00,282.89 294.00,279.41 295.00,275.75 296.00,271.93 297.00,267.97 298.00,263.89 299.00,259.73 300.00,255.52 301.00,251.29 302.00,247.09 303.00,242.95 304.00,238.93 305.00,235.05 306.00,231.37 307.00,227.94 308.00,224.78 309.00,221.96 310.00,219.49 311.00,217.41 312.00,215.75 313.00,214.54 314.00,213.79 315.00,213.50 316.00,213.69 317.00,214.35 318.00,215.48 319.00,217.04 320.00,219.04 321.00,221.43 322.00,224.19 323.00,227.28 324.00,230.67 325.00,234.30 326.00,238.14 327.00,242.14 328.00,246.26 329.00,250.45 330.00,254.68 331.00,258.89 332.00,263.07 333.00,267.16 334.00,271.15 335.00,275.00 336.00,278.69 337.00,282.21 338.00,285.54 339.00,288.66 340.00,291.58 341.00,294.29 342.00,296.79 343.00,299.08 344.00,301.16 345.00,303.05 346.00,304.75 347.00,306.27 348.00,307.62 349.00,308.82 350.00,309.88 351.00,310.80 352.00,311.61 353.00,312.31 354.00,312.91 355.00,313.42 356.00,313.86 357.00,314.24 358.00,314.55 359.00,314.81 360.00,315.03 361.00,315.22 362.00,315.37 363.00,315.49 364.00,315.59 365.00,315.68 366.00,315.74 367.00,315.80 368.00,315.84 369.00,315.88 370.00,315.90 371.00,315.93 372.00,315.94 373.00,315.96 374.00,315.97 375.00,315.97 376.00,315.98 377.00,315.99 378.00,315.99 379.00,315.99 380.00,315.99 381.00,316.00 382.00,316.00 383.00,316.00 384.00,316.00 385.00,316.00 385.00,316.00" fill="#DBC1F6" stroke="none"/>
<polyline points="253.00,316.00 253.00,315.99 254.00,315.98 255.00,315.98 256.00,315.97 257.00,315.96 258.00,315.95 259.00,315.93 260.00,315.91 261.00,315.88 262.00,315.85 263.00,315.81 264.00,315.76 265.00,315.69 266.00,315.61 267.00,315.51 268.00,315.40 269.00,315.25 270.00,315.07 271.00,314.86 272.00,314.61 273.00,314.30 274.00,313.94 275.00,313.52 276.00,313.02 277.00,312.44 278.00,311.76 279.00,310.97 280.00,310.08 281.00,309.05 282.00,307.88 283.00,306.55 284.00,305.07 285.00,303.40 286.00,301.55 287.00,299.51 288.00,297.26 289.00,294.81 290.00,292.14 291.00,289.27 292.00,286.18 293.00,282.89 294.00,279.41 295.00,275.75 296.00,271.93 297.00,267.97 298.00,263.89 299.00,259.73 300.00,255.52 301.00,251.29 302.00,247.09 303.00,242.95 304.00,238.93 305.00,235.05 306.00,231.37 307.00,227.94 308.00,224.78 309.00,221.96 310.00,219.49 311.00,217.41 312.00,215.75 313.00,214.54 314.00,213.79 315.00,213.50 316.00,213.69 317.00,214.35 318.00,215.48 319.00,217.04 320.00,219.04 321.00,221.43 322.00,224.19 323.00,227.28 324.00,230.67 325.00,234.30 326.00,238.14 327.00,242.14 328.00,246.26 329.00,250.45 330.00,254.68 331.00,258.89 332.00,263.07 333.00,267.16 334.00,271.15 335.00,275.00 336.00,278.69 337.00,282.21 338.00,285.54 339.00,288.66 340.00,291.58 341.00,294.29 342.00,296.79 343.00,299.08 344.00,301.16 345.00,303.05 346.00,304.75 347.00,306.27 348.00,307.62 349.00,308.82 350.00,309.88 351.00,310.80 352.00,311.61 353.00,312.31 354.00,312.91 355.00,313.42 356.00,313.86 357.00,314.24 358.00,314.55 359.00,314.81 360.00,315.03 361.00,315.22 362.00,315.37 363.00,315.49 364.00,315.59 365.00,315.68 366.00,315.74 367.00,315.80 368.00,315.84 369.00,315.88 370.00,315.90 371.00,315.93 372.00,315.94 373.00,315.96 374.00,315.97 375.00,315.97 376.00,315.98 377.00,315.99 378.00,315.99 379.00,315.99 380.00,315.99 381.00,316.00 382.00,316.00 383.00,316.00 384.00,316.00 385.00,316.00 385.00,316.00" fill="none" stroke="#7A28E6" stroke-width="1.1" stroke-linejoin="round"/>
<polygon points="253.00,316.00 253.00,316.00 254.00,316.00 255.00,315.99 256.00,315.99 257.00,315.99 258.00,315.99 259.00,315.99 260.00,315.99 261.00,315.98 262.00,315.98 263.00,315.98 264.00,315.97 265.00,315.97 266.00,315.96 267.00,315.95 268.00,315.94 269.00,315.93 270.00,315.92 271.00,315.91 272.00,315.89 273.00,315.87 274.00,315.85 275.00,315.82 276.00,315.79 277.00,315.76 278.00,315.72 279.00,315.67 280.00,315.62 281.00,315.56 282.00,315.50 283.00,315.43 284.00,315.34 285.00,315.25 286.00,315.14 287.00,315.03 288.00,314.89 289.00,314.75 290.00,314.59 291.00,314.41 292.00,314.21 293.00,313.99 294.00,313.75 295.00,313.49 296.00,313.20 297.00,312.89 298.00,312.55 299.00,312.18 300.00,311.78 301.00,311.35 302.00,310.89 303.00,310.40 304.00,309.87 305.00,309.31 306.00,308.71 307.00,308.08 308.00,307.41 309.00,306.71 310.00,305.97 311.00,305.20 312.00,304.39 313.00,303.56 314.00,302.69 315.00,301.79 316.00,300.87 317.00,299.93 318.00,298.96 319.00,297.98 320.00,296.99 321.00,295.98 322.00,294.97 323.00,293.96 324.00,292.96 325.00,291.96 326.00,290.97 327.00,290.01 328.00,289.07 329.00,288.15 330.00,287.27 331.00,286.43 332.00,285.64 333.00,284.89 334.00,284.20 335.00,283.57 336.00,283.00 337.00,282.49 338.00,282.06 339.00,281.69 340.00,281.40 341.00,281.19 342.00,281.06 343.00,281.00 344.00,281.03 345.00,281.13 346.00,281.31 347.00,281.57 348.00,281.90 349.00,282.31 350.00,282.79 351.00,283.33 352.00,283.94 353.00,284.61 354.00,285.34 355.00,286.11 356.00,286.93 357.00,287.80 358.00,288.70 359.00,289.63 360.00,290.58 361.00,291.56 362.00,292.56 363.00,293.56 364.00,294.57 365.00,295.58 366.00,296.59 367.00,297.59 368.00,298.57 369.00,299.54 370.00,300.50 371.00,301.43 372.00,302.33 373.00,303.21 374.00,304.06 375.00,304.88 376.00,305.66 377.00,306.42 378.00,307.13 379.00,307.82 380.00,308.46 381.00,309.07 382.00,309.65 383.00,310.19 384.00,310.70 385.00,311.17 386.00,311.61 387.00,312.02 388.00,312.40 389.00,312.76 390.00,313.08 391.00,313.38 392.00,313.65 393.00,313.90 394.00,314.12 395.00,314.33 395.00,316.00" fill="#BEEFBE" stroke="none"/>
<polyline points="253.00,316.00 253.00,316.00 254.00,316.00 255.00,315.99 256.00,315.99 257.00,315.99 258.00,315.99 259.00,315.99 260.00,315.99 261.00,315.98 262.00,315.98 263.00,315.98 264.00,315.97 265.00,315.97 266.00,315.96 267.00,315.95 268.00,315.94 269.00,315.93 270.00,315.92 271.00,315.91 272.00,315.89 273.00,315.87 274.00,315.85 275.00,315.82 276.00,315.79 277.00,315.76 278.00,315.72 279.00,315.67 280.00,315.62 281.00,315.56 282.00,315.50 283.00,315.43 284.00,315.34 285.00,315.25 286.00,315.14 287.00,315.03 288.00,314.89 289.00,314.75 290.00,314.59 291.00,314.41 292.00,314.21 293.00,313.99 294.00,313.75 295.00,313.49 296.00,313.20 297.00,312.89 298.00,312.55 299.00,312.18 300.00,311.78 301.00,311.35 302.00,310.89 303.00,310.40 304.00,309.87 305.00,309.31 306.00,308.71 307.00,308.08 308.00,307.41 309.00,306.71 310.00,305.97 311.00,305.20 312.00,304.39 313.00,303.56 314.00,302.69 315.00,301.79 316.00,300.87 317.00,299.93 318.00,298.96 319.00,297.98 320.00,296.99 321.00,295.98 322.00,294.97 323.00,293.96 324.00,292.96 325.00,291.96 326.00,290.97 327.00,290.01 328.00,289.07 329.00,288.15 330.00,287.27 331.00,286.43 332.00,285.64 333.00,284.89 334.00,284.20 335.00,283.57 336.00,283.00 337.00,282.49 338.00,282.06 339.00,281.69 340.00,281.40 341.00,281.19 342.00,281.06 343.00,281.00 344.00,281.03 345.00,281.13 346.00,281.31 347.00,281.57 348.00,281.90 349.00,282.31 350.00,282.79 351.00,283.33 352.00,283.94 353.00,284.61 354.00,285.34 355.00,286.11 356.00,286.93 357.00,287.80 358.00,288.70 359.00,289.63 360.00,290.58 361.00,291.56 362.00,292.56 363.00,293.56 364.00,294.57 365.00,295.58 366.00,296.59 367.00,297.59 368.00,298.57 369.00,299.54 370.00,300.50 371.00,301.43 372.00,302.33 373.00,303.21 374.00,304.06 375.00,304.88 376.00,305.66 377.00,306.42 378.00,307.13 379.00,307.82 380.00,308.46 381.00,309.07 382.00,309.65 383.00,310.19 384.00,310.70 385.00,311.17 386.00,311.61 387.00,312.02 388.00,312.40 389.00,312.76 390.00,313.08 391.00,313.38 392.00,313.65 393.00,313.90 394.00,314.12 395.00,314.33 395.00,316.00" fill="none" stroke="#2DBB2D" stroke-width="1.1" stroke-linejoin="round"/>
<polygon points="253.00,316.00 253.00,313.90 254.00,313.57 255.00,313.21 256.00,312.80 257.00,312.35 258.00,311.85 259.00,311.30 260.00,310.71 261.00,310.06 262.00,309.37 263.00,308.63 264.00,307.83 265.00,306.99 266.00,306.11 267.00,305.19 268.00,304.23 269.00,303.24 270.00,302.22 271.00,301.19 272.00,300.15 273.00,299.11 274.00,298.08 275.00,297.06 276.00,296.07 277.00,295.13 278.00,294.22 279.00,293.38 280.00,292.60 281.00,291.90 282.00,291.29 283.00,290.77 284.00,290.34 285.00,290.02 286.00,289.81 287.00,289.71 288.00,289.72 289.00,289.84 290.00,290.08 291.00,290.42 292.00,290.86 293.00,291.40 294.00,292.04 295.00,292.75 296.00,293.54 297.00,294.40 298.00,295.31 299.00,296.27 300.00,297.26 301.00,298.28 302.00,299.32 303.00,300.36 304.00,301.40 305.00,302.43 306.00,303.44 307.00,304.42 308.00,305.38 309.00,306.29 310.00,307.17 311.00,308.00 312.00,308.78 313.00,309.51 314.00,310.20 315.00,310.83 316.00,311.42 317.00,311.95 318.00,312.44 319.00,312.88 320.00,313.28 321.00,313.64 322.00,313.96 323.00,314.24 324.00,314.50 325.00,314.72 326.00,314.91 327.00,315.08 328.00,315.22 329.00,315.35 330.00,315.45 331.00,315.55 332.00,315.62 333.00,315.69 334.00,315.75 335.00,315.79 336.00,315.83 337.00,315.86 338.00,315.89 339.00,315.91 340.00,315.93 341.00,315.94 342.00,315.95 343.00,315.96 344.00,315.97 345.00,315.98 346.00,315.98 347.00,315.99 348.00,315.99 349.00,315.99 350.00,315.99 351.00,316.00 352.00,316.00 353.00,316.00 354.00,316.00 355.00,316.00 356.00,316.00 356.00,316.00" fill="#FBE2AE" stroke="none"/>
<polyline points="253.00,316.00 253.00,313.90 254.00,313.57 255.00,313.21 256.00,312.80 257.00,312.35 258.00,311.85 259.00,311.30 260.00,310.71 261.00,310.06 262.00,309.37 263.00,308.63 264.00,307.83 265.00,306.99 266.00,306.11 267.00,305.19 268.00,304.23 269.00,303.24 270.00,302.22 271.00,301.19 272.00,300.15 273.00,299.11 274.00,298.08 275.00,297.06 276.00,296.07 277.00,295.13 278.00,294.22 279.00,293.38 280.00,292.60 281.00,291.90 282.00,291.29 283.00,290.77 284.00,290.34 285.00,290.02 286.00,289.81 287.00,289.71 288.00,289.72 289.00,289.84 290.00,290.08 291.00,290.42 292.00,290.86 293.00,291.40 294.00,292.04 295.00,292.75 296.00,293.54 297.00,294.40 298.00,295.31 299.00,296.27 300.00,297.26 301.00,298.28 302.00,299.32 303.00,300.36 304.00,301.40 305.00,302.43 306.00,303.44 307.00,304.42 308.00,305.38 309.00,306.29 310.00,307.17 311.00,308.00 312.00,308.78 313.00,309.51 314.00,310.20 315.00,310.83 316.00,311.42 317.00,311.95 318.00,312.44 319.00,312.88 320.00,313.28 321.00,313.64 322.00,313.96 323.00,314.24 324.00,314.50 325.00,314.72 326.00,314.91 327.00,315.08 328.00,315.22 329.00,315.35 330.00,315.45 331.00,315.55 332.00,315.62 333.00,315.69 334.00,315.75 335.00,315.79 336.00,315.83 337.00,315.86 338.00,315.89 339.00,315.91 340.00,315.93 341.00,315.94 342.00,315.95 343.00,315.96 344.00,315.97 345.00,315.98 346.00,315.98 347.00,315.99 348.00,315.99 349.00,315.99 350.00,315.99 351.00,316.00 352.00,316.00 353.00,316.00 354.00,316.00 355.00,316.00 356.00,316.00 356.00,316.00" fill="none" stroke="#F2A52A" stroke-width="1.1" stroke-linejoin="round"/>
<line x1="461.10" y1="158.00" x2="598" y2="158.00" stroke="#2DBB2D" stroke-width="1.1"/>
<path d="M46.30,147.80C46.93,148.67 48.52,151.65 50.10,153.00C51.68,154.35 54.22,155.18 55.80,155.90C57.38,156.62 58.40,157.45 59.60,157.30C60.80,157.15 61.47,156.82 63.00,155.00C64.53,153.18 66.40,150.23 68.80,146.40C71.20,142.57 74.53,137.52 77.40,132.00C80.27,126.48 83.12,120.02 86.00,113.30C88.88,106.58 92.05,97.93 94.70,91.70C97.35,85.47 99.75,79.97 101.90,75.90C104.05,71.83 105.92,68.83 107.60,67.30C109.28,65.77 110.70,66.70 112.00,66.70C113.30,66.70 113.73,66.00 115.40,67.30C117.07,68.60 119.70,71.15 122.00,74.50C124.30,77.85 126.57,82.15 129.20,87.40C131.83,92.65 135.28,100.40 137.80,106.00C140.32,111.60 142.13,116.52 144.30,121.00C146.47,125.48 148.63,129.83 150.80,132.90C152.97,135.97 155.15,137.78 157.30,139.40C159.45,141.02 161.73,141.97 163.70,142.60C165.67,143.23 167.30,143.27 169.10,143.20C170.90,143.13 172.70,143.02 174.50,142.20C176.30,141.38 178.10,139.85 179.90,138.30C181.70,136.75 183.50,134.63 185.30,132.90C187.10,131.17 189.08,129.02 190.70,127.90C192.32,126.78 193.38,126.48 195.00,126.20C196.62,125.92 198.78,126.10 200.40,126.20C202.02,126.30 203.18,126.55 204.70,126.80C206.22,127.05 207.12,126.50 209.50,127.70C211.88,128.90 215.77,131.42 219.00,134.00C222.23,136.58 226.23,140.87 228.90,143.20C231.57,145.53 232.92,146.58 235.00,148.00C237.08,149.42 239.25,150.73 241.40,151.70C243.55,152.67 245.97,153.42 247.90,153.80C249.83,154.18 252.15,153.97 253.00,154.00" fill="none" stroke="#000" stroke-width="2.3" stroke-linejoin="round" stroke-linecap="round"/>
<path d="M253.10,152.20C253.88,150.90 255.72,148.03 257.80,144.40C259.88,140.77 263.00,135.58 265.60,130.40C268.20,125.22 270.80,119.53 273.40,113.30C276.00,107.07 278.87,98.98 281.20,93.00C283.53,87.02 285.58,81.15 287.40,77.40C289.22,73.65 290.53,72.32 292.10,70.50C293.67,68.68 295.25,67.68 296.80,66.50C298.35,65.32 299.58,64.70 301.40,63.40C303.22,62.10 305.62,59.90 307.70,58.70C309.78,57.50 312.08,56.72 313.90,56.20C315.72,55.68 317.20,55.55 318.60,55.60C320.00,55.65 321.00,55.20 322.30,56.50C323.60,57.80 324.95,59.92 326.40,63.40C327.85,66.88 329.45,72.47 331.00,77.40C332.55,82.33 334.13,87.80 335.70,93.00C337.27,98.20 338.83,104.18 340.40,108.60C341.97,113.02 343.53,116.65 345.10,119.50C346.67,122.35 347.98,124.03 349.80,125.70C351.62,127.37 353.77,128.58 356.00,129.50C358.23,130.42 361.00,130.92 363.20,131.20C365.40,131.48 367.20,131.60 369.20,131.20C371.20,130.80 373.20,129.40 375.20,128.80C377.20,128.20 379.40,128.12 381.20,127.60C383.00,127.08 384.60,126.90 386.00,125.70C387.40,124.50 388.40,122.48 389.60,120.40C390.80,118.32 392.00,115.20 393.20,113.20C394.40,111.20 395.60,109.32 396.80,108.40C398.00,107.48 399.20,107.62 400.40,107.70C401.60,107.78 402.80,108.38 404.00,108.90C405.20,109.42 406.40,109.88 407.60,110.80C408.80,111.72 410.00,112.60 411.20,114.40C412.40,116.20 413.60,118.80 414.80,121.60C416.00,124.40 417.20,128.40 418.40,131.20C419.60,134.00 420.80,136.88 422.00,138.40C423.20,139.92 424.40,139.70 425.60,140.30C426.80,140.90 428.00,140.92 429.20,142.00C430.40,143.08 431.60,145.08 432.80,146.80C434.00,148.52 435.20,150.82 436.40,152.30C437.60,153.78 438.60,154.93 440.00,155.70C441.40,156.47 443.00,156.55 444.80,156.90C446.60,157.25 449.20,157.65 450.80,157.80C452.40,157.95 453.20,158.43 454.40,157.80C455.60,157.17 456.87,155.23 458.00,154.00C459.13,152.77 460.67,151.00 461.20,150.40" fill="none" stroke="#000" stroke-width="2.3" stroke-linejoin="round" stroke-linecap="round"/>
<path d="M461.13,150.38C461.55,149.90 462.73,148.21 463.63,147.50C464.52,146.80 465.54,146.48 466.50,146.16C467.46,145.84 468.42,146.00 469.38,145.59C470.33,145.17 471.13,144.57 472.25,143.67C473.37,142.78 474.49,141.88 476.08,140.22C477.68,138.56 479.92,136.32 481.84,133.70C483.75,131.08 485.67,127.79 487.59,124.50C489.50,121.21 491.74,116.52 493.34,113.96C494.93,111.40 495.89,110.19 497.17,109.17C498.45,108.15 499.66,107.92 501.00,107.83C502.35,107.73 503.62,107.79 505.22,108.59C506.82,109.39 508.73,110.93 510.59,112.62C512.44,114.31 514.74,117.35 516.34,118.75C517.94,120.16 518.89,120.89 520.17,121.05C521.45,121.21 522.41,120.57 524.01,119.71C525.60,118.85 528.00,116.74 529.76,115.88C531.51,115.01 532.95,114.69 534.55,114.54C536.14,114.38 537.74,114.38 539.34,114.92C540.94,115.46 542.21,116.04 544.13,117.79C546.05,119.55 548.44,122.59 550.84,125.46C553.24,128.34 556.98,133.07 558.51,135.05C560.03,137.02 558.63,135.81 560.00,137.30C561.37,138.79 564.47,142.03 566.70,144.00C568.93,145.97 571.15,147.68 573.40,149.10C575.65,150.52 577.95,151.55 580.20,152.50C582.45,153.45 584.67,154.30 586.90,154.80C589.13,155.30 591.37,155.50 593.60,155.50C595.83,155.50 598.07,155.30 600.30,154.80C602.53,154.30 605.03,153.07 607.00,152.50C608.97,151.93 610.42,151.80 612.10,151.40C613.78,151.00 615.70,150.77 617.10,150.10C618.50,149.43 619.55,147.85 620.50,147.40C621.45,146.95 621.97,146.83 622.80,147.40C623.63,147.97 623.30,150.03 625.50,150.80C627.70,151.57 632.47,152.12 636.00,152.00C639.53,151.88 644.25,150.30 646.70,150.10C649.15,149.90 649.47,149.85 650.70,150.80C651.93,151.75 653.15,154.57 654.10,155.80C655.05,157.03 655.57,158.03 656.40,158.20C657.23,158.37 658.08,156.92 659.10,156.80C660.12,156.68 660.93,157.50 662.50,157.50C664.07,157.50 667.50,156.92 668.50,156.80" fill="none" stroke="#000" stroke-width="2.3" stroke-linejoin="round" stroke-linecap="round"/>
<path d="M46.60,315.00C46.82,314.33 47.23,312.23 47.90,311.00C48.57,309.77 49.50,308.17 50.60,307.60C51.70,307.03 52.97,307.55 54.50,307.60C56.03,307.65 58.03,308.33 59.80,307.90C61.57,307.47 63.35,306.45 65.10,305.00C66.85,303.55 68.33,301.72 70.30,299.20C72.27,296.68 74.70,293.87 76.90,289.90C79.10,285.93 81.30,280.45 83.50,275.40C85.70,270.35 88.12,263.78 90.10,259.60C92.08,255.42 93.85,252.37 95.40,250.30C96.95,248.23 98.08,247.85 99.40,247.20C100.72,246.55 101.98,246.32 103.30,246.40C104.62,246.48 105.53,246.60 107.30,247.70C109.07,248.80 111.48,250.80 113.90,253.00C116.32,255.20 119.17,258.35 121.80,260.90C124.43,263.45 127.28,265.88 129.70,268.30C132.12,270.72 134.58,273.62 136.30,275.40C138.02,277.18 138.42,276.73 140.00,279.00C141.58,281.27 143.88,285.65 145.80,289.00C147.72,292.35 149.58,296.22 151.50,299.10C153.42,301.98 155.38,304.52 157.30,306.30C159.22,308.08 161.08,308.93 163.00,309.80C164.92,310.67 166.40,311.02 168.80,311.50C171.20,311.98 174.53,312.45 177.40,312.70C180.27,312.95 182.88,313.10 186.00,313.00C189.12,312.90 192.98,312.10 196.10,312.10C199.22,312.10 202.15,312.52 204.70,313.00C207.25,313.48 208.52,313.50 211.40,315.00C214.28,316.50 218.40,320.33 222.00,322.00C225.60,323.67 230.12,324.73 233.00,325.00C235.88,325.27 237.05,324.32 239.30,323.60C241.55,322.88 244.22,321.93 246.50,320.70C248.78,319.47 251.92,316.95 253.00,316.20" fill="none" stroke="#000" stroke-width="2.3" stroke-linejoin="round" stroke-linecap="round"/>
<path d="M253.00,316.20C254.18,315.30 257.80,312.82 260.10,310.80C262.40,308.78 264.57,306.72 266.80,304.10C269.03,301.48 271.27,298.73 273.50,295.10C275.73,291.47 278.25,286.67 280.20,282.30C282.15,277.93 283.52,273.37 285.20,268.90C286.88,264.43 288.33,260.82 290.30,255.50C292.27,250.18 294.77,243.15 297.00,237.00C299.23,230.85 301.47,224.47 303.70,218.60C305.93,212.73 308.45,206.13 310.40,201.80C312.35,197.47 314.00,194.37 315.40,192.60C316.80,190.83 317.78,191.07 318.80,191.20C319.82,191.33 320.38,191.08 321.50,193.40C322.62,195.72 324.00,200.35 325.50,205.10C327.00,209.85 328.82,216.30 330.50,221.90C332.18,227.50 333.92,233.38 335.60,238.70C337.28,244.02 338.93,249.33 340.60,253.80C342.27,258.27 344.07,262.22 345.60,265.50C347.13,268.78 348.00,269.97 349.80,273.50C351.60,277.03 353.98,282.97 356.40,286.70C358.82,290.43 361.67,293.05 364.30,295.90C366.93,298.75 369.57,301.60 372.20,303.80C374.83,306.00 377.47,307.65 380.10,309.10C382.73,310.55 385.37,311.62 388.00,312.50C390.63,313.38 393.27,314.08 395.90,314.40C398.53,314.72 401.17,314.27 403.80,314.40C406.43,314.53 409.28,314.93 411.70,315.20C414.12,315.47 416.32,316.05 418.30,316.00C420.28,315.95 421.83,314.87 423.60,314.90C425.37,314.93 426.92,315.72 428.90,316.20C430.88,316.68 433.32,317.62 435.50,317.80C437.68,317.98 439.82,317.08 442.00,317.30C444.18,317.52 446.40,318.58 448.60,319.10C450.80,319.62 453.10,320.32 455.20,320.40C457.30,320.48 460.20,319.73 461.20,319.60" fill="none" stroke="#000" stroke-width="2.3" stroke-linejoin="round" stroke-linecap="round"/>
<rect x="210.20" y="78.70" width="19.00" height="91.30" fill="url(#hatch)" stroke="#000" stroke-width="1.3"/>
<rect x="211.40" y="238.10" width="21.60" height="91.90" fill="url(#hatch)" stroke="#000" stroke-width="1.3"/>
<rect x="625.50" y="67.50" width="21.20" height="91.70" fill="url(#hatch)" stroke="#000" stroke-width="1.3"/>
<path d="M188.10,294.00 L200.10,306.00 M188.10,306.00 L200.10,294.00" stroke="#FF0808" stroke-width="2.90" fill="none"/>
<path d="M401.20,295.20 L413.20,307.20 M401.20,307.20 L413.20,295.20" stroke="#FF0808" stroke-width="2.90" fill="none"/>
<path d="M604.40,133.70 L616.40,145.70 M604.40,145.70 L616.40,133.70" stroke="#FF0808" stroke-width="2.90" fill="none"/>
<line x1="201.50" y1="96.80" x2="201.50" y2="106.80" stroke="#FF0808" stroke-width="2.1"/>
<polygon points="197.40,105.80 205.60,105.80 201.50,118.30" fill="#FF0808"/>
<line x1="402.30" y1="80.80" x2="402.30" y2="90.90" stroke="#FF0808" stroke-width="2.1"/>
<polygon points="398.20,89.90 406.40,89.90 402.30,102.40" fill="#FF0808"/>
<g stroke="#000" stroke-width="1.4" fill="none" stroke-linejoin="round">
<rect x="46.10" y="18.90" width="622.30" height="157.90"/>
<path d="M46.10,176.80 V334.30 H461.10 V176.80"/>
<path d="M253.00,18.90 V334.30"/>
<path d="M461.10,18.90 V176.80"/>
</g>
<path d="M66.40,18.90L66.40,26.90M66.40,172.50L66.40,181.10M66.40,334.30L66.40,326.30M101.00,18.90L101.00,26.90M101.00,172.50L101.00,181.10M101.00,334.30L101.00,326.30M135.60,18.90L135.60,26.90M135.60,172.50L135.60,181.10M135.60,334.30L135.60,326.30M170.20,18.90L170.20,26.90M170.20,172.50L170.20,181.10M170.20,334.30L170.20,326.30M204.80,18.90L204.80,26.90M204.80,172.50L204.80,181.10M204.80,334.30L204.80,326.30M239.40,18.90L239.40,26.90M239.40,172.50L239.40,181.10M239.40,334.30L239.40,326.30M273.90,18.90L273.90,26.90M273.90,172.50L273.90,181.10M273.90,334.30L273.90,326.30M308.50,18.90L308.50,26.90M308.50,172.50L308.50,181.10M308.50,334.30L308.50,326.30M343.10,18.90L343.10,26.90M343.10,172.50L343.10,181.10M343.10,334.30L343.10,326.30M377.70,18.90L377.70,26.90M377.70,172.50L377.70,181.10M377.70,334.30L377.70,326.30M412.30,18.90L412.30,26.90M412.30,172.50L412.30,181.10M412.30,334.30L412.30,326.30M446.90,18.90L446.90,26.90M446.90,172.50L446.90,181.10M446.90,334.30L446.90,326.30M481.40,18.90L481.40,26.90M481.40,176.80L481.40,168.80M516.00,18.90L516.00,26.90M516.00,176.80L516.00,168.80M550.60,18.90L550.60,26.90M550.60,176.80L550.60,168.80M585.20,18.90L585.20,26.90M585.20,176.80L585.20,168.80M619.80,18.90L619.80,26.90M619.80,176.80L619.80,168.80M654.40,18.90L654.40,26.90M654.40,176.80L654.40,168.80M46.10,158.00L54.10,158.00M248.50,158.00L257.50,158.00M456.60,158.00L465.60,158.00M668.40,158.00L660.40,158.00M46.10,139.46L50.00,139.46M250.30,139.46L255.70,139.46M458.40,139.46L463.80,139.46M668.40,139.46L664.50,139.46M46.10,120.92L54.10,120.92M248.50,120.92L257.50,120.92M456.60,120.92L465.60,120.92M668.40,120.92L660.40,120.92M46.10,102.38L50.00,102.38M250.30,102.38L255.70,102.38M458.40,102.38L463.80,102.38M668.40,102.38L664.50,102.38M46.10,83.84L54.10,83.84M248.50,83.84L257.50,83.84M456.60,83.84L465.60,83.84M668.40,83.84L660.40,83.84M46.10,65.30L50.00,65.30M250.30,65.30L255.70,65.30M458.40,65.30L463.80,65.30M668.40,65.30L664.50,65.30M46.10,46.76L54.10,46.76M248.50,46.76L257.50,46.76M456.60,46.76L465.60,46.76M668.40,46.76L660.40,46.76M46.10,28.22L50.00,28.22M250.30,28.22L255.70,28.22M458.40,28.22L463.80,28.22M668.40,28.22L664.50,28.22M46.10,316.00L53.60,316.00M248.80,316.00L257.20,316.00M461.10,316.00L453.60,316.00M46.10,269.65L53.60,269.65M248.80,269.65L257.20,269.65M461.10,269.65L453.60,269.65M46.10,223.30L53.60,223.30M248.80,223.30L257.20,223.30M461.10,223.30L453.60,223.30" stroke="#000" stroke-width="1.15" fill="none"/>
<text x="23.5" y="51.1" font-size="12.00" textLength="17.3" lengthAdjust="spacingAndGlyphs" fill="#111">1.2</text>
<text x="23.5" y="88.1" font-size="12.00" textLength="17.3" lengthAdjust="spacingAndGlyphs" fill="#111">0.8</text>
<text x="23.5" y="125.0" font-size="12.00" textLength="17.3" lengthAdjust="spacingAndGlyphs" fill="#111">0.4</text>
<text x="23.5" y="162.1" font-size="12.00" textLength="17.3" lengthAdjust="spacingAndGlyphs" fill="#111">0.0</text>
<text x="23.5" y="180.3" font-size="12.00" textLength="17.3" lengthAdjust="spacingAndGlyphs" fill="#111">1.5</text>
<text x="23.5" y="227.3" font-size="12.00" textLength="17.3" lengthAdjust="spacingAndGlyphs" fill="#111">1.0</text>
<text x="23.5" y="273.7" font-size="12.00" textLength="17.3" lengthAdjust="spacingAndGlyphs" fill="#111">0.5</text>
<text x="23.5" y="320.1" font-size="12.00" textLength="17.3" lengthAdjust="spacingAndGlyphs" fill="#111">0.0</text>
<text x="57.9" y="350.6" font-size="12.00" textLength="17.0" lengthAdjust="spacingAndGlyphs" fill="#111">0.3</text>
<text x="92.5" y="350.6" font-size="12.00" textLength="17.0" lengthAdjust="spacingAndGlyphs" fill="#111">0.4</text>
<text x="127.1" y="350.6" font-size="12.00" textLength="17.0" lengthAdjust="spacingAndGlyphs" fill="#111">0.5</text>
<text x="161.7" y="350.6" font-size="12.00" textLength="17.0" lengthAdjust="spacingAndGlyphs" fill="#111">0.6</text>
<text x="196.3" y="350.6" font-size="12.00" textLength="17.0" lengthAdjust="spacingAndGlyphs" fill="#111">0.7</text>
<text x="230.9" y="350.6" font-size="12.00" textLength="17.0" lengthAdjust="spacingAndGlyphs" fill="#111">0.8</text>
<text x="265.4" y="350.6" font-size="12.00" textLength="17.0" lengthAdjust="spacingAndGlyphs" fill="#111">0.3</text>
<text x="300.0" y="350.6" font-size="12.00" textLength="17.0" lengthAdjust="spacingAndGlyphs" fill="#111">0.4</text>
<text x="334.6" y="350.6" font-size="12.00" textLength="17.0" lengthAdjust="spacingAndGlyphs" fill="#111">0.5</text>
<text x="369.2" y="350.6" font-size="12.00" textLength="17.0" lengthAdjust="spacingAndGlyphs" fill="#111">0.6</text>
<text x="403.8" y="350.6" font-size="12.00" textLength="17.0" lengthAdjust="spacingAndGlyphs" fill="#111">0.7</text>
<text x="438.4" y="350.6" font-size="12.00" textLength="17.0" lengthAdjust="spacingAndGlyphs" fill="#111">0.8</text>
<text x="472.9" y="193.2" font-size="12.00" textLength="17.0" lengthAdjust="spacingAndGlyphs" fill="#111">0.3</text>
<text x="507.5" y="193.2" font-size="12.00" textLength="17.0" lengthAdjust="spacingAndGlyphs" fill="#111">0.4</text>
<text x="542.1" y="193.2" font-size="12.00" textLength="17.0" lengthAdjust="spacingAndGlyphs" fill="#111">0.5</text>
<text x="576.7" y="193.2" font-size="12.00" textLength="17.0" lengthAdjust="spacingAndGlyphs" fill="#111">0.6</text>
<text x="611.3" y="193.2" font-size="12.00" textLength="17.0" lengthAdjust="spacingAndGlyphs" fill="#111">0.7</text>
<text x="645.9" y="193.2" font-size="12.00" textLength="17.0" lengthAdjust="spacingAndGlyphs" fill="#111">0.8</text>
<text x="312.4" y="367.1" font-size="12.00" textLength="88.2" lengthAdjust="spacingAndGlyphs" fill="#111">Frequency (THz)</text>
<text x="19.0" y="189.2" font-size="12.00" textLength="62.4" lengthAdjust="spacingAndGlyphs" transform="rotate(-90 19.0 189.2)" fill="#111">Absorbance</text>
<text x="142.9" y="41.2" font-size="12.00" textLength="76.8" lengthAdjust="spacingAndGlyphs" fill="#111">6 K SSR (111)</text>
<text x="142.3" y="56.2" font-size="12.00" font-weight="bold" fill="#111">h</text>
<path d="M153.50,47.60v8.60M156.70,47.60v8.60" stroke="#000" stroke-width="1.15"/>
<text x="162.8" y="56.2" font-size="12.00" textLength="33.6" lengthAdjust="spacingAndGlyphs" fill="#111">[11-2]</text>
<text x="142.3" y="71.2" font-size="12.00" font-weight="bold" fill="#111">e</text>
<path d="M153.50,62.60v8.60M156.70,62.60v8.60" stroke="#000" stroke-width="1.15"/>
<text x="166.6" y="71.2" font-size="12.00" textLength="34.1" lengthAdjust="spacingAndGlyphs" fill="#111">[1-10]</text>
<text x="355.5" y="42.2" font-size="12.00" textLength="87.9" lengthAdjust="spacingAndGlyphs" fill="#111">12 K CSR (1-10)</text>
<text x="354.9" y="57.4" font-size="12.00" font-weight="bold" fill="#111">h</text>
<path d="M365.00,48.80v8.60M368.10,48.80v8.60" stroke="#000" stroke-width="1.15"/>
<text x="374.5" y="57.4" font-size="12.00" textLength="34.5" lengthAdjust="spacingAndGlyphs" fill="#111">[11-2]</text>
<text x="354.9" y="71.9" font-size="12.00" font-weight="bold" fill="#111">e</text>
<path d="M365.00,63.30v8.60M368.10,63.30v8.60" stroke="#000" stroke-width="1.15"/>
<text x="377.9" y="71.9" font-size="12.00" textLength="30.7" lengthAdjust="spacingAndGlyphs" fill="#111">[111]</text>
<text x="560.2" y="44.8" font-size="12.00" textLength="80.5" lengthAdjust="spacingAndGlyphs" fill="#111">6 K SSR (11-2)</text>
<text x="559.6" y="60.3" font-size="12.00" font-weight="bold" fill="#111">h</text>
<path d="M570.90,51.70v8.60M573.80,51.70v8.60" stroke="#000" stroke-width="1.15"/>
<text x="580.0" y="60.3" font-size="12.00" textLength="30.5" lengthAdjust="spacingAndGlyphs" fill="#111">[111]</text>
<text x="559.6" y="75.0" font-size="12.00" font-weight="bold" fill="#111">e</text>
<path d="M570.90,66.40v8.60M573.80,66.40v8.60" stroke="#000" stroke-width="1.15"/>
<text x="580.0" y="75.0" font-size="12.00" textLength="34.8" lengthAdjust="spacingAndGlyphs" fill="#111">[1-10]</text>
<text x="137.2" y="199.6" font-size="12.00" textLength="73.3" lengthAdjust="spacingAndGlyphs" fill="#111">6K SSR (111)</text>
<text x="136.6" y="214.1" font-size="12.00" font-weight="bold" fill="#111">h</text>
<path d="M147.70,205.50v8.60M150.40,205.50v8.60" stroke="#000" stroke-width="1.15"/>
<text x="157.1" y="214.1" font-size="12.00" textLength="33.8" lengthAdjust="spacingAndGlyphs" fill="#111">[1-10]</text>
<text x="136.6" y="229.2" font-size="12.00" font-weight="bold" fill="#111">e</text>
<path d="M147.70,220.60v8.60M150.40,220.60v8.60" stroke="#000" stroke-width="1.15"/>
<text x="157.1" y="229.2" font-size="12.00" textLength="33.8" lengthAdjust="spacingAndGlyphs" fill="#111">[11-2]</text>
<text x="356.2" y="207.2" font-size="12.00" textLength="88.4" lengthAdjust="spacingAndGlyphs" fill="#111">12 K CSR (1-10)</text>
<text x="355.6" y="221.6" font-size="12.00" font-weight="bold" fill="#111">h</text>
<path d="M366.20,213.00v8.60M368.90,213.00v8.60" stroke="#000" stroke-width="1.15"/>
<text x="375.2" y="221.6" font-size="12.00" textLength="30.8" lengthAdjust="spacingAndGlyphs" fill="#111">[111]</text>
<text x="355.6" y="236.7" font-size="12.00" font-weight="bold" fill="#111">e</text>
<path d="M366.20,228.10v8.60M368.90,228.10v8.60" stroke="#000" stroke-width="1.15"/>
<text x="375.2" y="236.7" font-size="12.00" textLength="34.7" lengthAdjust="spacingAndGlyphs" fill="#111">[11-2]</text>
<text x="52.0" y="43.7" font-size="14.20" textLength="18.2" lengthAdjust="spacingAndGlyphs" fill="#111">(a)</text>
<text x="55.1" y="207.8" font-size="14.20" textLength="18.7" lengthAdjust="spacingAndGlyphs" fill="#111">(b)</text>
<text x="259.1" y="45.1" font-size="14.20" textLength="18.3" lengthAdjust="spacingAndGlyphs" fill="#111">(c)</text>
<text x="266.6" y="203.5" font-size="14.20" textLength="19.0" lengthAdjust="spacingAndGlyphs" fill="#111">(d)</text>
<text x="469.9" y="45.1" font-size="14.20" textLength="19.5" lengthAdjust="spacingAndGlyphs" fill="#111">(e)</text>
<text x="100.2" y="117.6" font-size="12.20" textLength="12.7" lengthAdjust="spacingAndGlyphs" fill="#7A28E6">P1</text>
<text x="72.0" y="153.2" font-size="12.20" textLength="14.0" lengthAdjust="spacingAndGlyphs" fill="#B5851B">P0</text>
<text x="130.8" y="146.3" font-size="12.20" textLength="12.4" lengthAdjust="spacingAndGlyphs" fill="#1FA11F">P2</text>
<text x="194.0" y="147.9" font-size="12.20" textLength="12.7" lengthAdjust="spacingAndGlyphs" fill="#F02020">P3</text>
<text x="277.2" y="144.8" font-size="12.20" textLength="13.8" lengthAdjust="spacingAndGlyphs" fill="#B5851B">P0</text>
<text x="308.3" y="111.0" font-size="12.20" textLength="12.6" lengthAdjust="spacingAndGlyphs" fill="#7A28E6">P1</text>
<text x="331.7" y="147.8" font-size="12.20" textLength="12.9" lengthAdjust="spacingAndGlyphs" fill="#1FA11F">P2</text>
<text x="395.6" y="148.3" font-size="12.20" textLength="12.7" lengthAdjust="spacingAndGlyphs" fill="#F02020">P3</text>
<text x="488.3" y="141.8" font-size="12.20" textLength="12.9" lengthAdjust="spacingAndGlyphs" fill="#B5851B">P0</text>
<text x="517.6" y="146.4" font-size="12.20" textLength="12.2" lengthAdjust="spacingAndGlyphs" fill="#7A28E6">P1</text>
<text x="539.7" y="153.9" font-size="12.20" textLength="12.5" lengthAdjust="spacingAndGlyphs" fill="#1FA11F">P2</text>
<text x="70.9" y="312.9" font-size="12.20" textLength="13.3" lengthAdjust="spacingAndGlyphs" fill="#B5851B">P0</text>
<text x="102.3" y="291.1" font-size="12.20" textLength="11.8" lengthAdjust="spacingAndGlyphs" fill="#7A28E6">P1</text>
<text x="129.4" y="310.7" font-size="12.20" textLength="13.1" lengthAdjust="spacingAndGlyphs" fill="#1FA11F">P2</text>
<text x="276.4" y="308.8" font-size="12.20" textLength="13.5" lengthAdjust="spacingAndGlyphs" fill="#B5851B">P0</text>
<text x="307.6" y="270.2" font-size="12.20" textLength="12.5" lengthAdjust="spacingAndGlyphs" fill="#7A28E6">P1</text>
<text x="338.4" y="301.0" font-size="12.20" textLength="12.7" lengthAdjust="spacingAndGlyphs" fill="#1FA11F">P2</text>
</g></svg>
</body></html>
